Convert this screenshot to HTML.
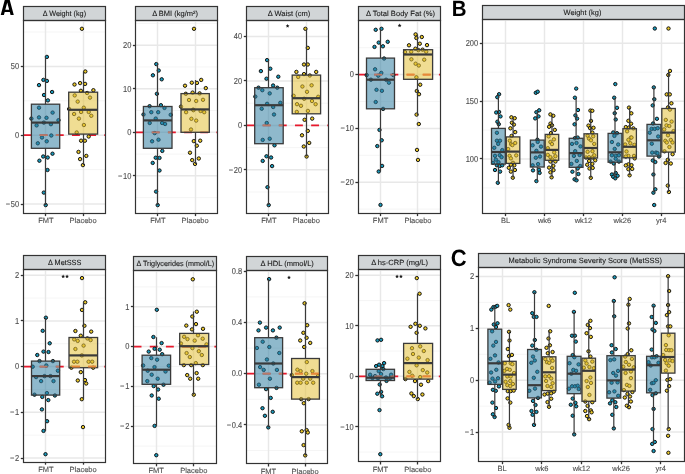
<!DOCTYPE html>
<html><head><meta charset="utf-8"><style>
html,body{margin:0;padding:0;background:#fff;}
svg{display:block;font-family:"Liberation Sans",sans-serif;}
svg{will-change:transform;}
text{text-rendering:geometricPrecision;}
</style></head><body>
<svg width="685" height="474" viewBox="0 0 685 474">
<rect width="685" height="474" fill="#fff"/>
<rect x="23.5" y="6.5" width="82" height="14" fill="#d1d5d7" stroke="#333333" stroke-width="1.2"/>
<text transform="translate(64.4,15.9) scale(1,1.0)" text-anchor="middle" font-size="7.5" fill="#1a1a1a" stroke="#1a1a1a" stroke-width="0.1" textLength="43.3" lengthAdjust="spacingAndGlyphs">Δ Weight (kg)</text>
<line x1="23.5" x2="105.5" y1="32" y2="32" stroke="#f2f2f2" stroke-width="0.8"/>
<line x1="23.5" x2="105.5" y1="100.8" y2="100.8" stroke="#f2f2f2" stroke-width="0.8"/>
<line x1="23.5" x2="105.5" y1="169.6" y2="169.6" stroke="#f2f2f2" stroke-width="0.8"/>
<line x1="23.5" x2="105.5" y1="66.4" y2="66.4" stroke="#e8e8e8" stroke-width="1.5"/>
<line x1="23.5" x2="105.5" y1="135.2" y2="135.2" stroke="#e8e8e8" stroke-width="1.5"/>
<line x1="23.5" x2="105.5" y1="204" y2="204" stroke="#e8e8e8" stroke-width="1.5"/>
<line x1="45.5" x2="45.5" y1="20.3" y2="213.4" stroke="#e8e8e8" stroke-width="1.5"/>
<line x1="83.5" x2="83.5" y1="20.3" y2="213.4" stroke="#e8e8e8" stroke-width="1.5"/>
<path d="M23.5 135.2H31.4M39.66 135.2H47.56M55.82 135.2H63.72M71.98 135.2H79.88M88.14 135.2H96.04M104.3 135.2H105.5" stroke="#e8192c" stroke-width="1.7" fill="none"/>
<circle cx="46.9" cy="56.9" r="1.7" fill="#1899bb" stroke="#0d0d0d" stroke-width="0.95"/>
<circle cx="43.4" cy="79.9" r="1.7" fill="#1899bb" stroke="#0d0d0d" stroke-width="0.95"/>
<circle cx="46.9" cy="80.9" r="1.7" fill="#1899bb" stroke="#0d0d0d" stroke-width="0.95"/>
<circle cx="39" cy="85.1" r="1.7" fill="#1899bb" stroke="#0d0d0d" stroke-width="0.95"/>
<circle cx="52.1" cy="92" r="1.7" fill="#1899bb" stroke="#0d0d0d" stroke-width="0.95"/>
<circle cx="44" cy="95" r="1.7" fill="#1899bb" stroke="#0d0d0d" stroke-width="0.95"/>
<circle cx="47.9" cy="100.4" r="1.7" fill="#1899bb" stroke="#0d0d0d" stroke-width="0.95"/>
<circle cx="39" cy="107.7" r="1.7" fill="#1899bb" stroke="#0d0d0d" stroke-width="0.95"/>
<circle cx="52.6" cy="112.6" r="1.7" fill="#1899bb" stroke="#0d0d0d" stroke-width="0.95"/>
<circle cx="31.4" cy="118.6" r="1.7" fill="#1899bb" stroke="#0d0d0d" stroke-width="0.95"/>
<circle cx="39" cy="117.4" r="1.7" fill="#1899bb" stroke="#0d0d0d" stroke-width="0.95"/>
<circle cx="46.5" cy="117.8" r="1.7" fill="#1899bb" stroke="#0d0d0d" stroke-width="0.95"/>
<circle cx="58.5" cy="120.2" r="1.7" fill="#1899bb" stroke="#0d0d0d" stroke-width="0.95"/>
<circle cx="36.6" cy="125.4" r="1.7" fill="#1899bb" stroke="#0d0d0d" stroke-width="0.95"/>
<circle cx="43.8" cy="122.6" r="1.7" fill="#1899bb" stroke="#0d0d0d" stroke-width="0.95"/>
<circle cx="50.9" cy="124.2" r="1.7" fill="#1899bb" stroke="#0d0d0d" stroke-width="0.95"/>
<circle cx="42" cy="137.5" r="1.7" fill="#1899bb" stroke="#0d0d0d" stroke-width="0.95"/>
<circle cx="51.3" cy="135.5" r="1.7" fill="#1899bb" stroke="#0d0d0d" stroke-width="0.95"/>
<circle cx="37.8" cy="143.3" r="1.7" fill="#1899bb" stroke="#0d0d0d" stroke-width="0.95"/>
<circle cx="46.7" cy="141.3" r="1.7" fill="#1899bb" stroke="#0d0d0d" stroke-width="0.95"/>
<circle cx="43.2" cy="156.5" r="1.7" fill="#1899bb" stroke="#0d0d0d" stroke-width="0.95"/>
<circle cx="47.7" cy="157.5" r="1.7" fill="#1899bb" stroke="#0d0d0d" stroke-width="0.95"/>
<circle cx="52.5" cy="153.7" r="1.7" fill="#1899bb" stroke="#0d0d0d" stroke-width="0.95"/>
<circle cx="39.4" cy="160.7" r="1.7" fill="#1899bb" stroke="#0d0d0d" stroke-width="0.95"/>
<circle cx="47.5" cy="170" r="1.7" fill="#1899bb" stroke="#0d0d0d" stroke-width="0.95"/>
<circle cx="43.8" cy="192.6" r="1.7" fill="#1899bb" stroke="#0d0d0d" stroke-width="0.95"/>
<circle cx="45.7" cy="205.1" r="1.7" fill="#1899bb" stroke="#0d0d0d" stroke-width="0.95"/>
<circle cx="81.9" cy="28.8" r="1.7" fill="#ebc92a" stroke="#0d0d0d" stroke-width="0.95"/>
<circle cx="85.3" cy="71.5" r="1.7" fill="#ebc92a" stroke="#0d0d0d" stroke-width="0.95"/>
<circle cx="74.5" cy="84.5" r="1.7" fill="#ebc92a" stroke="#0d0d0d" stroke-width="0.95"/>
<circle cx="80.1" cy="83.1" r="1.7" fill="#ebc92a" stroke="#0d0d0d" stroke-width="0.95"/>
<circle cx="85.1" cy="83.9" r="1.7" fill="#ebc92a" stroke="#0d0d0d" stroke-width="0.95"/>
<circle cx="80.9" cy="90.8" r="1.7" fill="#ebc92a" stroke="#0d0d0d" stroke-width="0.95"/>
<circle cx="87.1" cy="93" r="1.7" fill="#ebc92a" stroke="#0d0d0d" stroke-width="0.95"/>
<circle cx="93.4" cy="90.2" r="1.7" fill="#ebc92a" stroke="#0d0d0d" stroke-width="0.95"/>
<circle cx="74.7" cy="95.4" r="1.7" fill="#ebc92a" stroke="#0d0d0d" stroke-width="0.95"/>
<circle cx="90" cy="97.6" r="1.7" fill="#ebc92a" stroke="#0d0d0d" stroke-width="0.95"/>
<circle cx="77.7" cy="101.6" r="1.7" fill="#ebc92a" stroke="#0d0d0d" stroke-width="0.95"/>
<circle cx="83.8" cy="107.7" r="1.7" fill="#ebc92a" stroke="#0d0d0d" stroke-width="0.95"/>
<circle cx="69.1" cy="109" r="1.7" fill="#ebc92a" stroke="#0d0d0d" stroke-width="0.95"/>
<circle cx="74.1" cy="114" r="1.7" fill="#ebc92a" stroke="#0d0d0d" stroke-width="0.95"/>
<circle cx="81.1" cy="112" r="1.7" fill="#ebc92a" stroke="#0d0d0d" stroke-width="0.95"/>
<circle cx="88.7" cy="112" r="1.7" fill="#ebc92a" stroke="#0d0d0d" stroke-width="0.95"/>
<circle cx="91.3" cy="115.8" r="1.7" fill="#ebc92a" stroke="#0d0d0d" stroke-width="0.95"/>
<circle cx="78.9" cy="118.6" r="1.7" fill="#ebc92a" stroke="#0d0d0d" stroke-width="0.95"/>
<circle cx="83.9" cy="125" r="1.7" fill="#ebc92a" stroke="#0d0d0d" stroke-width="0.95"/>
<circle cx="76.7" cy="132.5" r="1.7" fill="#ebc92a" stroke="#0d0d0d" stroke-width="0.95"/>
<circle cx="88.7" cy="136.5" r="1.7" fill="#ebc92a" stroke="#0d0d0d" stroke-width="0.95"/>
<circle cx="81.1" cy="140.7" r="1.7" fill="#ebc92a" stroke="#0d0d0d" stroke-width="0.95"/>
<circle cx="84.9" cy="140.7" r="1.7" fill="#ebc92a" stroke="#0d0d0d" stroke-width="0.95"/>
<circle cx="78.5" cy="151.9" r="1.7" fill="#ebc92a" stroke="#0d0d0d" stroke-width="0.95"/>
<circle cx="86.3" cy="155.9" r="1.7" fill="#ebc92a" stroke="#0d0d0d" stroke-width="0.95"/>
<circle cx="80.1" cy="159.1" r="1.7" fill="#ebc92a" stroke="#0d0d0d" stroke-width="0.95"/>
<circle cx="82.9" cy="165.1" r="1.7" fill="#ebc92a" stroke="#0d0d0d" stroke-width="0.95"/>
<path d="M45.5 104.2V56.9M45.5 148.3V205.1" stroke="#3a3a3a" stroke-width="1.2"/>
<rect x="31.4" y="104.2" width="28.3" height="44.1" fill="rgb(51,128,162)" fill-opacity="0.55" stroke="#3a3a3a" stroke-width="1.3"/>
<path d="M39.66 135.2H47.56M55.82 135.2H59.1" stroke="#bb7a66" stroke-width="1.7" fill="none"/>
<line x1="31.4" x2="59.7" y1="122.6" y2="122.6" stroke="#3a3a3a" stroke-width="2.2"/>
<path d="M83.5 92.2V71.5M83.5 134.1V165.1" stroke="#3a3a3a" stroke-width="1.2"/>
<rect x="68.7" y="92.2" width="28.9" height="41.9" fill="rgb(228,193,59)" fill-opacity="0.55" stroke="#3a3a3a" stroke-width="1.3"/>
<line x1="68.7" x2="97.6" y1="109.8" y2="109.8" stroke="#3a3a3a" stroke-width="2.2"/>
<line x1="20.8" x2="23.5" y1="66.5" y2="66.5" stroke="#333333" stroke-width="1.3"/>
<text transform="translate(19.2,69.15) scale(1,1.15)" text-anchor="end" font-size="7.5" fill="#4d4d4d" stroke="#4d4d4d" stroke-width="0.1">50</text>
<line x1="20.8" x2="23.5" y1="135.5" y2="135.5" stroke="#333333" stroke-width="1.3"/>
<text transform="translate(19.2,137.95) scale(1,1.15)" text-anchor="end" font-size="7.5" fill="#4d4d4d" stroke="#4d4d4d" stroke-width="0.1">0</text>
<line x1="20.8" x2="23.5" y1="204.5" y2="204.5" stroke="#333333" stroke-width="1.3"/>
<text transform="translate(19.2,206.75) scale(1,1.15)" text-anchor="end" font-size="7.5" fill="#4d4d4d" stroke="#4d4d4d" stroke-width="0.1">−<tspan dx="0.7">50</tspan></text>
<line x1="45.5" x2="45.5" y1="213.4" y2="216.1" stroke="#333333" stroke-width="1.3"/>
<text transform="translate(45.86,223.2) scale(1,1.0)" text-anchor="middle" font-size="7.5" fill="#4d4d4d" stroke="#4d4d4d" stroke-width="0.1">FMT</text>
<line x1="83.5" x2="83.5" y1="213.4" y2="216.1" stroke="#333333" stroke-width="1.3"/>
<text transform="translate(83.14,223.2) scale(1,1.0)" text-anchor="middle" font-size="7.5" fill="#4d4d4d" stroke="#4d4d4d" stroke-width="0.1">Placebo</text>
<rect x="23.5" y="20.5" width="82" height="193" fill="none" stroke="#333333" stroke-width="1.2"/>
<rect x="135.5" y="6.5" width="82" height="14" fill="#d1d5d7" stroke="#333333" stroke-width="1.2"/>
<text transform="translate(175.05,15.9) scale(1,1.0)" text-anchor="middle" font-size="7.5" fill="#1a1a1a" stroke="#1a1a1a" stroke-width="0.1" textLength="45.8" lengthAdjust="spacingAndGlyphs">Δ BMI (kg/m²)</text>
<line x1="135.6" x2="217.4" y1="23.42" y2="23.42" stroke="#f2f2f2" stroke-width="0.8"/>
<line x1="135.6" x2="217.4" y1="66.98" y2="66.98" stroke="#f2f2f2" stroke-width="0.8"/>
<line x1="135.6" x2="217.4" y1="110.53" y2="110.53" stroke="#f2f2f2" stroke-width="0.8"/>
<line x1="135.6" x2="217.4" y1="154.08" y2="154.08" stroke="#f2f2f2" stroke-width="0.8"/>
<line x1="135.6" x2="217.4" y1="197.62" y2="197.62" stroke="#f2f2f2" stroke-width="0.8"/>
<line x1="135.6" x2="217.4" y1="45.2" y2="45.2" stroke="#e8e8e8" stroke-width="1.5"/>
<line x1="135.6" x2="217.4" y1="88.75" y2="88.75" stroke="#e8e8e8" stroke-width="1.5"/>
<line x1="135.6" x2="217.4" y1="132.3" y2="132.3" stroke="#e8e8e8" stroke-width="1.5"/>
<line x1="135.6" x2="217.4" y1="175.85" y2="175.85" stroke="#e8e8e8" stroke-width="1.5"/>
<line x1="157.5" x2="157.5" y1="20.3" y2="213.4" stroke="#e8e8e8" stroke-width="1.5"/>
<line x1="195.5" x2="195.5" y1="20.3" y2="213.4" stroke="#e8e8e8" stroke-width="1.5"/>
<path d="M135.6 132.3H143.5M151.76 132.3H159.66M167.92 132.3H175.82M184.08 132.3H191.98M200.24 132.3H208.14M216.4 132.3H217.4" stroke="#e8192c" stroke-width="1.7" fill="none"/>
<circle cx="156.3" cy="64.1" r="1.7" fill="#1899bb" stroke="#0d0d0d" stroke-width="0.95"/>
<circle cx="158.7" cy="70.5" r="1.7" fill="#1899bb" stroke="#0d0d0d" stroke-width="0.95"/>
<circle cx="152.9" cy="75.3" r="1.7" fill="#1899bb" stroke="#0d0d0d" stroke-width="0.95"/>
<circle cx="161.7" cy="79.3" r="1.7" fill="#1899bb" stroke="#0d0d0d" stroke-width="0.95"/>
<circle cx="156.9" cy="93.8" r="1.7" fill="#1899bb" stroke="#0d0d0d" stroke-width="0.95"/>
<circle cx="149.6" cy="106.2" r="1.7" fill="#1899bb" stroke="#0d0d0d" stroke-width="0.95"/>
<circle cx="160.9" cy="105.2" r="1.7" fill="#1899bb" stroke="#0d0d0d" stroke-width="0.95"/>
<circle cx="164.5" cy="107.9" r="1.7" fill="#1899bb" stroke="#0d0d0d" stroke-width="0.95"/>
<circle cx="151.3" cy="112.2" r="1.7" fill="#1899bb" stroke="#0d0d0d" stroke-width="0.95"/>
<circle cx="158.2" cy="112.2" r="1.7" fill="#1899bb" stroke="#0d0d0d" stroke-width="0.95"/>
<circle cx="143.5" cy="114.5" r="1.7" fill="#1899bb" stroke="#0d0d0d" stroke-width="0.95"/>
<circle cx="170.7" cy="114.8" r="1.7" fill="#1899bb" stroke="#0d0d0d" stroke-width="0.95"/>
<circle cx="155.7" cy="118.6" r="1.7" fill="#1899bb" stroke="#0d0d0d" stroke-width="0.95"/>
<circle cx="149.7" cy="123" r="1.7" fill="#1899bb" stroke="#0d0d0d" stroke-width="0.95"/>
<circle cx="162.1" cy="123" r="1.7" fill="#1899bb" stroke="#0d0d0d" stroke-width="0.95"/>
<circle cx="165.1" cy="124" r="1.7" fill="#1899bb" stroke="#0d0d0d" stroke-width="0.95"/>
<circle cx="154.7" cy="133.1" r="1.7" fill="#1899bb" stroke="#0d0d0d" stroke-width="0.95"/>
<circle cx="152.1" cy="141.3" r="1.7" fill="#1899bb" stroke="#0d0d0d" stroke-width="0.95"/>
<circle cx="158.5" cy="139.7" r="1.7" fill="#1899bb" stroke="#0d0d0d" stroke-width="0.95"/>
<circle cx="162.3" cy="150.9" r="1.7" fill="#1899bb" stroke="#0d0d0d" stroke-width="0.95"/>
<circle cx="155.7" cy="157.7" r="1.7" fill="#1899bb" stroke="#0d0d0d" stroke-width="0.95"/>
<circle cx="159.5" cy="157.9" r="1.7" fill="#1899bb" stroke="#0d0d0d" stroke-width="0.95"/>
<circle cx="152.7" cy="162.9" r="1.7" fill="#1899bb" stroke="#0d0d0d" stroke-width="0.95"/>
<circle cx="159.5" cy="170.5" r="1.7" fill="#1899bb" stroke="#0d0d0d" stroke-width="0.95"/>
<circle cx="156.1" cy="191.6" r="1.7" fill="#1899bb" stroke="#0d0d0d" stroke-width="0.95"/>
<circle cx="157.7" cy="205.1" r="1.7" fill="#1899bb" stroke="#0d0d0d" stroke-width="0.95"/>
<circle cx="194" cy="28.8" r="1.7" fill="#ebc92a" stroke="#0d0d0d" stroke-width="0.95"/>
<circle cx="201.2" cy="79.9" r="1.7" fill="#ebc92a" stroke="#0d0d0d" stroke-width="0.95"/>
<circle cx="191.8" cy="82.7" r="1.7" fill="#ebc92a" stroke="#0d0d0d" stroke-width="0.95"/>
<circle cx="197" cy="82.9" r="1.7" fill="#ebc92a" stroke="#0d0d0d" stroke-width="0.95"/>
<circle cx="185" cy="85.7" r="1.7" fill="#ebc92a" stroke="#0d0d0d" stroke-width="0.95"/>
<circle cx="205.8" cy="88.1" r="1.7" fill="#ebc92a" stroke="#0d0d0d" stroke-width="0.95"/>
<circle cx="185.8" cy="93.8" r="1.7" fill="#ebc92a" stroke="#0d0d0d" stroke-width="0.95"/>
<circle cx="192.6" cy="92.6" r="1.7" fill="#ebc92a" stroke="#0d0d0d" stroke-width="0.95"/>
<circle cx="199.6" cy="93.4" r="1.7" fill="#ebc92a" stroke="#0d0d0d" stroke-width="0.95"/>
<circle cx="189" cy="100" r="1.7" fill="#ebc92a" stroke="#0d0d0d" stroke-width="0.95"/>
<circle cx="196.2" cy="101" r="1.7" fill="#ebc92a" stroke="#0d0d0d" stroke-width="0.95"/>
<circle cx="203" cy="99.8" r="1.7" fill="#ebc92a" stroke="#0d0d0d" stroke-width="0.95"/>
<circle cx="181" cy="106.6" r="1.7" fill="#ebc92a" stroke="#0d0d0d" stroke-width="0.95"/>
<circle cx="193.2" cy="109.6" r="1.7" fill="#ebc92a" stroke="#0d0d0d" stroke-width="0.95"/>
<circle cx="186.1" cy="112.2" r="1.7" fill="#ebc92a" stroke="#0d0d0d" stroke-width="0.95"/>
<circle cx="193.4" cy="110.2" r="1.7" fill="#ebc92a" stroke="#0d0d0d" stroke-width="0.95"/>
<circle cx="200.6" cy="111" r="1.7" fill="#ebc92a" stroke="#0d0d0d" stroke-width="0.95"/>
<circle cx="204.2" cy="112.2" r="1.7" fill="#ebc92a" stroke="#0d0d0d" stroke-width="0.95"/>
<circle cx="191.4" cy="118.8" r="1.7" fill="#ebc92a" stroke="#0d0d0d" stroke-width="0.95"/>
<circle cx="196.2" cy="120.6" r="1.7" fill="#ebc92a" stroke="#0d0d0d" stroke-width="0.95"/>
<circle cx="191" cy="129.5" r="1.7" fill="#ebc92a" stroke="#0d0d0d" stroke-width="0.95"/>
<circle cx="193.8" cy="141.1" r="1.7" fill="#ebc92a" stroke="#0d0d0d" stroke-width="0.95"/>
<circle cx="200.2" cy="140.7" r="1.7" fill="#ebc92a" stroke="#0d0d0d" stroke-width="0.95"/>
<circle cx="196.8" cy="145.7" r="1.7" fill="#ebc92a" stroke="#0d0d0d" stroke-width="0.95"/>
<circle cx="190" cy="152.7" r="1.7" fill="#ebc92a" stroke="#0d0d0d" stroke-width="0.95"/>
<circle cx="198.8" cy="158.5" r="1.7" fill="#ebc92a" stroke="#0d0d0d" stroke-width="0.95"/>
<circle cx="192.2" cy="160.1" r="1.7" fill="#ebc92a" stroke="#0d0d0d" stroke-width="0.95"/>
<circle cx="195" cy="163.9" r="1.7" fill="#ebc92a" stroke="#0d0d0d" stroke-width="0.95"/>
<path d="M157.5 106.5V64.1M157.5 148.3V205.1" stroke="#3a3a3a" stroke-width="1.2"/>
<rect x="143.4" y="106.5" width="28.6" height="41.8" fill="rgb(51,128,162)" fill-opacity="0.55" stroke="#3a3a3a" stroke-width="1.3"/>
<path d="M151.76 132.3H159.66M167.92 132.3H171.4" stroke="#bb7a66" stroke-width="1.7" fill="none"/>
<line x1="143.4" x2="172" y1="120.4" y2="120.4" stroke="#3a3a3a" stroke-width="2.2"/>
<path d="M195.5 93.6V79.9M195.5 132.3V163.9" stroke="#3a3a3a" stroke-width="1.2"/>
<rect x="181" y="93.6" width="28.3" height="38.7" fill="rgb(228,193,59)" fill-opacity="0.55" stroke="#3a3a3a" stroke-width="1.3"/>
<line x1="181" x2="209.3" y1="109.4" y2="109.4" stroke="#3a3a3a" stroke-width="2.2"/>
<line x1="132.9" x2="135.6" y1="45.5" y2="45.5" stroke="#333333" stroke-width="1.3"/>
<text transform="translate(131.3,47.95) scale(1,1.15)" text-anchor="end" font-size="7.5" fill="#4d4d4d" stroke="#4d4d4d" stroke-width="0.1">20</text>
<line x1="132.9" x2="135.6" y1="88.5" y2="88.5" stroke="#333333" stroke-width="1.3"/>
<text transform="translate(131.3,91.5) scale(1,1.15)" text-anchor="end" font-size="7.5" fill="#4d4d4d" stroke="#4d4d4d" stroke-width="0.1">10</text>
<line x1="132.9" x2="135.6" y1="132.5" y2="132.5" stroke="#333333" stroke-width="1.3"/>
<text transform="translate(131.3,135.05) scale(1,1.15)" text-anchor="end" font-size="7.5" fill="#4d4d4d" stroke="#4d4d4d" stroke-width="0.1">0</text>
<line x1="132.9" x2="135.6" y1="175.5" y2="175.5" stroke="#333333" stroke-width="1.3"/>
<text transform="translate(131.3,178.6) scale(1,1.15)" text-anchor="end" font-size="7.5" fill="#4d4d4d" stroke="#4d4d4d" stroke-width="0.1">−<tspan dx="0.7">10</tspan></text>
<line x1="157.5" x2="157.5" y1="213.4" y2="216.1" stroke="#333333" stroke-width="1.3"/>
<text transform="translate(157.91,223.2) scale(1,1.0)" text-anchor="middle" font-size="7.5" fill="#4d4d4d" stroke="#4d4d4d" stroke-width="0.1">FMT</text>
<line x1="195.5" x2="195.5" y1="213.4" y2="216.1" stroke="#333333" stroke-width="1.3"/>
<text transform="translate(195.09,223.2) scale(1,1.0)" text-anchor="middle" font-size="7.5" fill="#4d4d4d" stroke="#4d4d4d" stroke-width="0.1">Placebo</text>
<rect x="135.5" y="20.5" width="82" height="193" fill="none" stroke="#333333" stroke-width="1.2"/>
<rect x="246.5" y="6.5" width="82" height="14" fill="#d1d5d7" stroke="#333333" stroke-width="1.2"/>
<text transform="translate(289,15.9) scale(1,1.0)" text-anchor="middle" font-size="7.5" fill="#1a1a1a" stroke="#1a1a1a" stroke-width="0.1" textLength="42.5" lengthAdjust="spacingAndGlyphs">Δ Waist (cm)</text>
<line x1="246.5" x2="328.8" y1="58.8" y2="58.8" stroke="#f2f2f2" stroke-width="0.8"/>
<line x1="246.5" x2="328.8" y1="103.2" y2="103.2" stroke="#f2f2f2" stroke-width="0.8"/>
<line x1="246.5" x2="328.8" y1="147.6" y2="147.6" stroke="#f2f2f2" stroke-width="0.8"/>
<line x1="246.5" x2="328.8" y1="192" y2="192" stroke="#f2f2f2" stroke-width="0.8"/>
<line x1="246.5" x2="328.8" y1="36.6" y2="36.6" stroke="#e8e8e8" stroke-width="1.5"/>
<line x1="246.5" x2="328.8" y1="81" y2="81" stroke="#e8e8e8" stroke-width="1.5"/>
<line x1="246.5" x2="328.8" y1="125.4" y2="125.4" stroke="#e8e8e8" stroke-width="1.5"/>
<line x1="246.5" x2="328.8" y1="169.8" y2="169.8" stroke="#e8e8e8" stroke-width="1.5"/>
<line x1="268.5" x2="268.5" y1="20.3" y2="213.4" stroke="#e8e8e8" stroke-width="1.5"/>
<line x1="306.5" x2="306.5" y1="20.3" y2="213.4" stroke="#e8e8e8" stroke-width="1.5"/>
<path d="M246.5 125.4H254.4M262.66 125.4H270.56M278.82 125.4H286.72M294.98 125.4H302.88M311.14 125.4H319.04M327.3 125.4H328.8" stroke="#e8192c" stroke-width="1.7" fill="none"/>
<circle cx="267.1" cy="60.1" r="1.7" fill="#1899bb" stroke="#0d0d0d" stroke-width="0.95"/>
<circle cx="260.9" cy="71.1" r="1.7" fill="#1899bb" stroke="#0d0d0d" stroke-width="0.95"/>
<circle cx="270.3" cy="68.7" r="1.7" fill="#1899bb" stroke="#0d0d0d" stroke-width="0.95"/>
<circle cx="266.5" cy="78.7" r="1.7" fill="#1899bb" stroke="#0d0d0d" stroke-width="0.95"/>
<circle cx="278.3" cy="76.7" r="1.7" fill="#1899bb" stroke="#0d0d0d" stroke-width="0.95"/>
<circle cx="273.1" cy="85.5" r="1.7" fill="#1899bb" stroke="#0d0d0d" stroke-width="0.95"/>
<circle cx="258.5" cy="87.7" r="1.7" fill="#1899bb" stroke="#0d0d0d" stroke-width="0.95"/>
<circle cx="262.3" cy="90.2" r="1.7" fill="#1899bb" stroke="#0d0d0d" stroke-width="0.95"/>
<circle cx="277.3" cy="87.7" r="1.7" fill="#1899bb" stroke="#0d0d0d" stroke-width="0.95"/>
<circle cx="269.7" cy="93.4" r="1.7" fill="#1899bb" stroke="#0d0d0d" stroke-width="0.95"/>
<circle cx="255.3" cy="96.6" r="1.7" fill="#1899bb" stroke="#0d0d0d" stroke-width="0.95"/>
<circle cx="267.1" cy="103.8" r="1.7" fill="#1899bb" stroke="#0d0d0d" stroke-width="0.95"/>
<circle cx="280.3" cy="102.8" r="1.7" fill="#1899bb" stroke="#0d0d0d" stroke-width="0.95"/>
<circle cx="261.7" cy="108.7" r="1.7" fill="#1899bb" stroke="#0d0d0d" stroke-width="0.95"/>
<circle cx="273.2" cy="107" r="1.7" fill="#1899bb" stroke="#0d0d0d" stroke-width="0.95"/>
<circle cx="274" cy="114.5" r="1.7" fill="#1899bb" stroke="#0d0d0d" stroke-width="0.95"/>
<circle cx="266.7" cy="123" r="1.7" fill="#1899bb" stroke="#0d0d0d" stroke-width="0.95"/>
<circle cx="262.7" cy="139.9" r="1.7" fill="#1899bb" stroke="#0d0d0d" stroke-width="0.95"/>
<circle cx="269.7" cy="138.7" r="1.7" fill="#1899bb" stroke="#0d0d0d" stroke-width="0.95"/>
<circle cx="274.5" cy="145.3" r="1.7" fill="#1899bb" stroke="#0d0d0d" stroke-width="0.95"/>
<circle cx="266.5" cy="156.3" r="1.7" fill="#1899bb" stroke="#0d0d0d" stroke-width="0.95"/>
<circle cx="271.1" cy="157.5" r="1.7" fill="#1899bb" stroke="#0d0d0d" stroke-width="0.95"/>
<circle cx="262.7" cy="160.9" r="1.7" fill="#1899bb" stroke="#0d0d0d" stroke-width="0.95"/>
<circle cx="272.1" cy="166.1" r="1.7" fill="#1899bb" stroke="#0d0d0d" stroke-width="0.95"/>
<circle cx="267.5" cy="187.2" r="1.7" fill="#1899bb" stroke="#0d0d0d" stroke-width="0.95"/>
<circle cx="268.7" cy="205.1" r="1.7" fill="#1899bb" stroke="#0d0d0d" stroke-width="0.95"/>
<circle cx="305.4" cy="28.8" r="1.7" fill="#ebc92a" stroke="#0d0d0d" stroke-width="0.95"/>
<circle cx="307.8" cy="47.9" r="1.7" fill="#ebc92a" stroke="#0d0d0d" stroke-width="0.95"/>
<circle cx="304" cy="64.5" r="1.7" fill="#ebc92a" stroke="#0d0d0d" stroke-width="0.95"/>
<circle cx="307.8" cy="64.5" r="1.7" fill="#ebc92a" stroke="#0d0d0d" stroke-width="0.95"/>
<circle cx="296.4" cy="71.9" r="1.7" fill="#ebc92a" stroke="#0d0d0d" stroke-width="0.95"/>
<circle cx="304" cy="74.1" r="1.7" fill="#ebc92a" stroke="#0d0d0d" stroke-width="0.95"/>
<circle cx="309.8" cy="75.5" r="1.7" fill="#ebc92a" stroke="#0d0d0d" stroke-width="0.95"/>
<circle cx="316.2" cy="71.9" r="1.7" fill="#ebc92a" stroke="#0d0d0d" stroke-width="0.95"/>
<circle cx="298.2" cy="76.9" r="1.7" fill="#ebc92a" stroke="#0d0d0d" stroke-width="0.95"/>
<circle cx="302.4" cy="86.5" r="1.7" fill="#ebc92a" stroke="#0d0d0d" stroke-width="0.95"/>
<circle cx="311.6" cy="85.3" r="1.7" fill="#ebc92a" stroke="#0d0d0d" stroke-width="0.95"/>
<circle cx="307" cy="91.8" r="1.7" fill="#ebc92a" stroke="#0d0d0d" stroke-width="0.95"/>
<circle cx="293.6" cy="95.8" r="1.7" fill="#ebc92a" stroke="#0d0d0d" stroke-width="0.95"/>
<circle cx="304.2" cy="98.8" r="1.7" fill="#ebc92a" stroke="#0d0d0d" stroke-width="0.95"/>
<circle cx="318.2" cy="96.8" r="1.7" fill="#ebc92a" stroke="#0d0d0d" stroke-width="0.95"/>
<circle cx="312" cy="101" r="1.7" fill="#ebc92a" stroke="#0d0d0d" stroke-width="0.95"/>
<circle cx="297" cy="104.2" r="1.7" fill="#ebc92a" stroke="#0d0d0d" stroke-width="0.95"/>
<circle cx="301" cy="105.8" r="1.7" fill="#ebc92a" stroke="#0d0d0d" stroke-width="0.95"/>
<circle cx="315.6" cy="104.2" r="1.7" fill="#ebc92a" stroke="#0d0d0d" stroke-width="0.95"/>
<circle cx="296.8" cy="111.9" r="1.7" fill="#ebc92a" stroke="#0d0d0d" stroke-width="0.95"/>
<circle cx="307.9" cy="110.9" r="1.7" fill="#ebc92a" stroke="#0d0d0d" stroke-width="0.95"/>
<circle cx="304.6" cy="119.8" r="1.7" fill="#ebc92a" stroke="#0d0d0d" stroke-width="0.95"/>
<circle cx="312.2" cy="118.6" r="1.7" fill="#ebc92a" stroke="#0d0d0d" stroke-width="0.95"/>
<circle cx="307.8" cy="130.9" r="1.7" fill="#ebc92a" stroke="#0d0d0d" stroke-width="0.95"/>
<circle cx="302" cy="135.3" r="1.7" fill="#ebc92a" stroke="#0d0d0d" stroke-width="0.95"/>
<circle cx="309.2" cy="142.9" r="1.7" fill="#ebc92a" stroke="#0d0d0d" stroke-width="0.95"/>
<circle cx="303.8" cy="146.5" r="1.7" fill="#ebc92a" stroke="#0d0d0d" stroke-width="0.95"/>
<circle cx="306.6" cy="156.5" r="1.7" fill="#ebc92a" stroke="#0d0d0d" stroke-width="0.95"/>
<path d="M268.5 87.7V60.1M268.5 143.7V205.1" stroke="#3a3a3a" stroke-width="1.2"/>
<rect x="254.7" y="87.7" width="28.5" height="56" fill="rgb(51,128,162)" fill-opacity="0.55" stroke="#3a3a3a" stroke-width="1.3"/>
<path d="M262.66 125.4H270.56M278.82 125.4H282.6" stroke="#bb7a66" stroke-width="1.7" fill="none"/>
<line x1="254.7" x2="283.2" y1="105.2" y2="105.2" stroke="#3a3a3a" stroke-width="2.2"/>
<path d="M306.5 75.1V28.8M306.5 113.8V156.5" stroke="#3a3a3a" stroke-width="1.2"/>
<rect x="292.2" y="75.1" width="28.4" height="38.7" fill="rgb(228,193,59)" fill-opacity="0.55" stroke="#3a3a3a" stroke-width="1.3"/>
<line x1="292.2" x2="320.6" y1="98.2" y2="98.2" stroke="#3a3a3a" stroke-width="2.2"/>
<line x1="243.8" x2="246.5" y1="36.5" y2="36.5" stroke="#333333" stroke-width="1.3"/>
<text transform="translate(242.2,39.35) scale(1,1.15)" text-anchor="end" font-size="7.5" fill="#4d4d4d" stroke="#4d4d4d" stroke-width="0.1">40</text>
<line x1="243.8" x2="246.5" y1="80.5" y2="80.5" stroke="#333333" stroke-width="1.3"/>
<text transform="translate(242.2,83.75) scale(1,1.15)" text-anchor="end" font-size="7.5" fill="#4d4d4d" stroke="#4d4d4d" stroke-width="0.1">20</text>
<line x1="243.8" x2="246.5" y1="125.5" y2="125.5" stroke="#333333" stroke-width="1.3"/>
<text transform="translate(242.2,128.15) scale(1,1.15)" text-anchor="end" font-size="7.5" fill="#4d4d4d" stroke="#4d4d4d" stroke-width="0.1">0</text>
<line x1="243.8" x2="246.5" y1="169.5" y2="169.5" stroke="#333333" stroke-width="1.3"/>
<text transform="translate(242.2,172.55) scale(1,1.15)" text-anchor="end" font-size="7.5" fill="#4d4d4d" stroke="#4d4d4d" stroke-width="0.1">−<tspan dx="0.7">20</tspan></text>
<line x1="268.5" x2="268.5" y1="213.4" y2="216.1" stroke="#333333" stroke-width="1.3"/>
<text transform="translate(268.95,223.2) scale(1,1.0)" text-anchor="middle" font-size="7.5" fill="#4d4d4d" stroke="#4d4d4d" stroke-width="0.1">FMT</text>
<line x1="306.5" x2="306.5" y1="213.4" y2="216.1" stroke="#333333" stroke-width="1.3"/>
<text transform="translate(306.35,223.2) scale(1,1.0)" text-anchor="middle" font-size="7.5" fill="#4d4d4d" stroke="#4d4d4d" stroke-width="0.1">Placebo</text>
<rect x="246.5" y="20.5" width="82" height="193" fill="none" stroke="#333333" stroke-width="1.2"/>
<polygon points="287.6,24 288.16,25.23 289.5,25.38 288.5,26.29 288.78,27.62 287.6,26.95 286.42,27.62 286.7,26.29 285.7,25.38 287.04,25.23" fill="#1a1a1a"/>
<rect x="358.5" y="6.5" width="82" height="14" fill="#d1d5d7" stroke="#333333" stroke-width="1.2"/>
<text transform="translate(400.55,15.9) scale(1,1.0)" text-anchor="middle" font-size="7.5" fill="#1a1a1a" stroke="#1a1a1a" stroke-width="0.1" textLength="69.2" lengthAdjust="spacingAndGlyphs">Δ Total Body Fat (%)</text>
<line x1="358.1" x2="440.4" y1="47.7" y2="47.7" stroke="#f2f2f2" stroke-width="0.8"/>
<line x1="358.1" x2="440.4" y1="101.5" y2="101.5" stroke="#f2f2f2" stroke-width="0.8"/>
<line x1="358.1" x2="440.4" y1="155.3" y2="155.3" stroke="#f2f2f2" stroke-width="0.8"/>
<line x1="358.1" x2="440.4" y1="209.1" y2="209.1" stroke="#f2f2f2" stroke-width="0.8"/>
<line x1="358.1" x2="440.4" y1="74.6" y2="74.6" stroke="#e8e8e8" stroke-width="1.5"/>
<line x1="358.1" x2="440.4" y1="128.4" y2="128.4" stroke="#e8e8e8" stroke-width="1.5"/>
<line x1="358.1" x2="440.4" y1="182.2" y2="182.2" stroke="#e8e8e8" stroke-width="1.5"/>
<line x1="380.5" x2="380.5" y1="20.3" y2="213.4" stroke="#e8e8e8" stroke-width="1.5"/>
<line x1="417.5" x2="417.5" y1="20.3" y2="213.4" stroke="#e8e8e8" stroke-width="1.5"/>
<path d="M358.1 74.6H366M374.26 74.6H382.16M390.42 74.6H398.32M406.58 74.6H414.48M422.74 74.6H430.64M438.9 74.6H440.4" stroke="#e8192c" stroke-width="1.7" fill="none"/>
<circle cx="375.7" cy="29.8" r="1.7" fill="#1899bb" stroke="#0d0d0d" stroke-width="0.95"/>
<circle cx="381.5" cy="28.8" r="1.7" fill="#1899bb" stroke="#0d0d0d" stroke-width="0.95"/>
<circle cx="378.7" cy="42.6" r="1.7" fill="#1899bb" stroke="#0d0d0d" stroke-width="0.95"/>
<circle cx="387.7" cy="41.8" r="1.7" fill="#1899bb" stroke="#0d0d0d" stroke-width="0.95"/>
<circle cx="374.5" cy="46.9" r="1.7" fill="#1899bb" stroke="#0d0d0d" stroke-width="0.95"/>
<circle cx="382.9" cy="46.3" r="1.7" fill="#1899bb" stroke="#0d0d0d" stroke-width="0.95"/>
<circle cx="384.1" cy="58.5" r="1.7" fill="#1899bb" stroke="#0d0d0d" stroke-width="0.95"/>
<circle cx="375.1" cy="69.3" r="1.7" fill="#1899bb" stroke="#0d0d0d" stroke-width="0.95"/>
<circle cx="381.3" cy="72.9" r="1.7" fill="#1899bb" stroke="#0d0d0d" stroke-width="0.95"/>
<circle cx="378.3" cy="75.7" r="1.7" fill="#1899bb" stroke="#0d0d0d" stroke-width="0.95"/>
<circle cx="366.7" cy="75.1" r="1.7" fill="#1899bb" stroke="#0d0d0d" stroke-width="0.95"/>
<circle cx="393.3" cy="75.1" r="1.7" fill="#1899bb" stroke="#0d0d0d" stroke-width="0.95"/>
<circle cx="370.9" cy="79.7" r="1.7" fill="#1899bb" stroke="#0d0d0d" stroke-width="0.95"/>
<circle cx="386.1" cy="79.7" r="1.7" fill="#1899bb" stroke="#0d0d0d" stroke-width="0.95"/>
<circle cx="388.9" cy="82.7" r="1.7" fill="#1899bb" stroke="#0d0d0d" stroke-width="0.95"/>
<circle cx="376.5" cy="89.8" r="1.7" fill="#1899bb" stroke="#0d0d0d" stroke-width="0.95"/>
<circle cx="381.9" cy="90.8" r="1.7" fill="#1899bb" stroke="#0d0d0d" stroke-width="0.95"/>
<circle cx="375.7" cy="102" r="1.7" fill="#1899bb" stroke="#0d0d0d" stroke-width="0.95"/>
<circle cx="383.1" cy="108.9" r="1.7" fill="#1899bb" stroke="#0d0d0d" stroke-width="0.95"/>
<circle cx="379.5" cy="129.9" r="1.7" fill="#1899bb" stroke="#0d0d0d" stroke-width="0.95"/>
<circle cx="381.7" cy="140.3" r="1.7" fill="#1899bb" stroke="#0d0d0d" stroke-width="0.95"/>
<circle cx="377.3" cy="146.1" r="1.7" fill="#1899bb" stroke="#0d0d0d" stroke-width="0.95"/>
<circle cx="382.1" cy="165.9" r="1.7" fill="#1899bb" stroke="#0d0d0d" stroke-width="0.95"/>
<circle cx="378.7" cy="171.5" r="1.7" fill="#1899bb" stroke="#0d0d0d" stroke-width="0.95"/>
<circle cx="380.5" cy="204.9" r="1.7" fill="#1899bb" stroke="#0d0d0d" stroke-width="0.95"/>
<circle cx="415.6" cy="34.4" r="1.7" fill="#ebc92a" stroke="#0d0d0d" stroke-width="0.95"/>
<circle cx="416.4" cy="38" r="1.7" fill="#ebc92a" stroke="#0d0d0d" stroke-width="0.95"/>
<circle cx="421.8" cy="37" r="1.7" fill="#ebc92a" stroke="#0d0d0d" stroke-width="0.95"/>
<circle cx="409" cy="45.3" r="1.7" fill="#ebc92a" stroke="#0d0d0d" stroke-width="0.95"/>
<circle cx="419.8" cy="43.7" r="1.7" fill="#ebc92a" stroke="#0d0d0d" stroke-width="0.95"/>
<circle cx="427" cy="45.1" r="1.7" fill="#ebc92a" stroke="#0d0d0d" stroke-width="0.95"/>
<circle cx="411.2" cy="51.7" r="1.7" fill="#ebc92a" stroke="#0d0d0d" stroke-width="0.95"/>
<circle cx="415.4" cy="48.7" r="1.7" fill="#ebc92a" stroke="#0d0d0d" stroke-width="0.95"/>
<circle cx="418.4" cy="50.1" r="1.7" fill="#ebc92a" stroke="#0d0d0d" stroke-width="0.95"/>
<circle cx="422.6" cy="49.7" r="1.7" fill="#ebc92a" stroke="#0d0d0d" stroke-width="0.95"/>
<circle cx="426.2" cy="51.7" r="1.7" fill="#ebc92a" stroke="#0d0d0d" stroke-width="0.95"/>
<circle cx="405" cy="52.1" r="1.7" fill="#ebc92a" stroke="#0d0d0d" stroke-width="0.95"/>
<circle cx="411.4" cy="59.3" r="1.7" fill="#ebc92a" stroke="#0d0d0d" stroke-width="0.95"/>
<circle cx="424.2" cy="59.7" r="1.7" fill="#ebc92a" stroke="#0d0d0d" stroke-width="0.95"/>
<circle cx="415.6" cy="63.7" r="1.7" fill="#ebc92a" stroke="#0d0d0d" stroke-width="0.95"/>
<circle cx="418.8" cy="65.5" r="1.7" fill="#ebc92a" stroke="#0d0d0d" stroke-width="0.95"/>
<circle cx="416.4" cy="77.3" r="1.7" fill="#ebc92a" stroke="#0d0d0d" stroke-width="0.95"/>
<circle cx="420.2" cy="84.7" r="1.7" fill="#ebc92a" stroke="#0d0d0d" stroke-width="0.95"/>
<circle cx="416.8" cy="91" r="1.7" fill="#ebc92a" stroke="#0d0d0d" stroke-width="0.95"/>
<circle cx="419" cy="94.2" r="1.7" fill="#ebc92a" stroke="#0d0d0d" stroke-width="0.95"/>
<circle cx="416.6" cy="114.6" r="1.7" fill="#ebc92a" stroke="#0d0d0d" stroke-width="0.95"/>
<circle cx="418.8" cy="124" r="1.7" fill="#ebc92a" stroke="#0d0d0d" stroke-width="0.95"/>
<circle cx="417" cy="149.9" r="1.7" fill="#ebc92a" stroke="#0d0d0d" stroke-width="0.95"/>
<circle cx="418" cy="159.9" r="1.7" fill="#ebc92a" stroke="#0d0d0d" stroke-width="0.95"/>
<path d="M380.5 58.1V28.8M380.5 108.8V171.5" stroke="#3a3a3a" stroke-width="1.2"/>
<rect x="366.5" y="58.1" width="28" height="50.7" fill="rgb(51,128,162)" fill-opacity="0.55" stroke="#3a3a3a" stroke-width="1.3"/>
<path d="M374.26 74.6H382.16M390.42 74.6H393.9" stroke="#bb7a66" stroke-width="1.7" fill="none"/>
<line x1="366.5" x2="394.5" y1="79.7" y2="79.7" stroke="#3a3a3a" stroke-width="2.2"/>
<path d="M417.5 49.7V34.4M417.5 79.3V115" stroke="#3a3a3a" stroke-width="1.2"/>
<rect x="403.6" y="49.7" width="29" height="29.6" fill="rgb(228,193,59)" fill-opacity="0.55" stroke="#3a3a3a" stroke-width="1.3"/>
<path d="M406.58 74.6H414.48M422.74 74.6H430.64" stroke="#e88a38" stroke-width="1.7" fill="none"/>
<line x1="403.6" x2="432.6" y1="54.5" y2="54.5" stroke="#3a3a3a" stroke-width="2.2"/>
<line x1="355.4" x2="358.1" y1="74.5" y2="74.5" stroke="#333333" stroke-width="1.3"/>
<text transform="translate(353.8,77.35) scale(1,1.15)" text-anchor="end" font-size="7.5" fill="#4d4d4d" stroke="#4d4d4d" stroke-width="0.1">0</text>
<line x1="355.4" x2="358.1" y1="128.5" y2="128.5" stroke="#333333" stroke-width="1.3"/>
<text transform="translate(353.8,131.15) scale(1,1.15)" text-anchor="end" font-size="7.5" fill="#4d4d4d" stroke="#4d4d4d" stroke-width="0.1">−<tspan dx="0.7">10</tspan></text>
<line x1="355.4" x2="358.1" y1="182.5" y2="182.5" stroke="#333333" stroke-width="1.3"/>
<text transform="translate(353.8,184.95) scale(1,1.15)" text-anchor="end" font-size="7.5" fill="#4d4d4d" stroke="#4d4d4d" stroke-width="0.1">−<tspan dx="0.7">20</tspan></text>
<line x1="380.5" x2="380.5" y1="213.4" y2="216.1" stroke="#333333" stroke-width="1.3"/>
<text transform="translate(380.55,223.2) scale(1,1.0)" text-anchor="middle" font-size="7.5" fill="#4d4d4d" stroke="#4d4d4d" stroke-width="0.1">FMT</text>
<line x1="417.5" x2="417.5" y1="213.4" y2="216.1" stroke="#333333" stroke-width="1.3"/>
<text transform="translate(417.95,223.2) scale(1,1.0)" text-anchor="middle" font-size="7.5" fill="#4d4d4d" stroke="#4d4d4d" stroke-width="0.1">Placebo</text>
<rect x="358.5" y="20.5" width="82" height="193" fill="none" stroke="#333333" stroke-width="1.2"/>
<polygon points="399.6,23.6 400.16,24.83 401.5,24.98 400.5,25.89 400.78,27.22 399.6,26.55 398.42,27.22 398.7,25.89 397.7,24.98 399.04,24.83" fill="#1a1a1a"/>
<rect x="23.5" y="255.5" width="82" height="14" fill="#d1d5d7" stroke="#333333" stroke-width="1.2"/>
<text transform="translate(64.7,264.9) scale(1,1.0)" text-anchor="middle" font-size="7.5" fill="#1a1a1a" stroke="#1a1a1a" stroke-width="0.1" textLength="33.3" lengthAdjust="spacingAndGlyphs">Δ MetSSS</text>
<line x1="23.5" x2="105.5" y1="298.05" y2="298.05" stroke="#f2f2f2" stroke-width="0.8"/>
<line x1="23.5" x2="105.5" y1="343.75" y2="343.75" stroke="#f2f2f2" stroke-width="0.8"/>
<line x1="23.5" x2="105.5" y1="389.45" y2="389.45" stroke="#f2f2f2" stroke-width="0.8"/>
<line x1="23.5" x2="105.5" y1="435.15" y2="435.15" stroke="#f2f2f2" stroke-width="0.8"/>
<line x1="23.5" x2="105.5" y1="275.2" y2="275.2" stroke="#e8e8e8" stroke-width="1.5"/>
<line x1="23.5" x2="105.5" y1="320.9" y2="320.9" stroke="#e8e8e8" stroke-width="1.5"/>
<line x1="23.5" x2="105.5" y1="366.6" y2="366.6" stroke="#e8e8e8" stroke-width="1.5"/>
<line x1="23.5" x2="105.5" y1="412.3" y2="412.3" stroke="#e8e8e8" stroke-width="1.5"/>
<line x1="23.5" x2="105.5" y1="458" y2="458" stroke="#e8e8e8" stroke-width="1.5"/>
<line x1="45.5" x2="45.5" y1="269.3" y2="462" stroke="#e8e8e8" stroke-width="1.5"/>
<line x1="83.5" x2="83.5" y1="269.3" y2="462" stroke="#e8e8e8" stroke-width="1.5"/>
<path d="M23.5 366.6H31.4M39.66 366.6H47.56M55.82 366.6H63.72M71.98 366.6H79.88M88.14 366.6H96.04M104.3 366.6H105.5" stroke="#e8192c" stroke-width="1.7" fill="none"/>
<circle cx="45.9" cy="317.7" r="1.7" fill="#1899bb" stroke="#0d0d0d" stroke-width="0.95"/>
<circle cx="42.7" cy="330.8" r="1.7" fill="#1899bb" stroke="#0d0d0d" stroke-width="0.95"/>
<circle cx="49.7" cy="343.3" r="1.7" fill="#1899bb" stroke="#0d0d0d" stroke-width="0.95"/>
<circle cx="43.5" cy="351.6" r="1.7" fill="#1899bb" stroke="#0d0d0d" stroke-width="0.95"/>
<circle cx="48.5" cy="352" r="1.7" fill="#1899bb" stroke="#0d0d0d" stroke-width="0.95"/>
<circle cx="37.3" cy="355" r="1.7" fill="#1899bb" stroke="#0d0d0d" stroke-width="0.95"/>
<circle cx="39.5" cy="361.1" r="1.7" fill="#1899bb" stroke="#0d0d0d" stroke-width="0.95"/>
<circle cx="52.9" cy="361.1" r="1.7" fill="#1899bb" stroke="#0d0d0d" stroke-width="0.95"/>
<circle cx="46.3" cy="365.5" r="1.7" fill="#1899bb" stroke="#0d0d0d" stroke-width="0.95"/>
<circle cx="32.7" cy="366.7" r="1.7" fill="#1899bb" stroke="#0d0d0d" stroke-width="0.95"/>
<circle cx="57.9" cy="370.7" r="1.7" fill="#1899bb" stroke="#0d0d0d" stroke-width="0.95"/>
<circle cx="44.5" cy="376.1" r="1.7" fill="#1899bb" stroke="#0d0d0d" stroke-width="0.95"/>
<circle cx="50.5" cy="376.1" r="1.7" fill="#1899bb" stroke="#0d0d0d" stroke-width="0.95"/>
<circle cx="36.1" cy="377.1" r="1.7" fill="#1899bb" stroke="#0d0d0d" stroke-width="0.95"/>
<circle cx="41.1" cy="381.1" r="1.7" fill="#1899bb" stroke="#0d0d0d" stroke-width="0.95"/>
<circle cx="53.5" cy="381.1" r="1.7" fill="#1899bb" stroke="#0d0d0d" stroke-width="0.95"/>
<circle cx="46.9" cy="393.1" r="1.7" fill="#1899bb" stroke="#0d0d0d" stroke-width="0.95"/>
<circle cx="34.5" cy="394.7" r="1.7" fill="#1899bb" stroke="#0d0d0d" stroke-width="0.95"/>
<circle cx="42.3" cy="396.9" r="1.7" fill="#1899bb" stroke="#0d0d0d" stroke-width="0.95"/>
<circle cx="54.9" cy="395.5" r="1.7" fill="#1899bb" stroke="#0d0d0d" stroke-width="0.95"/>
<circle cx="48.3" cy="400.1" r="1.7" fill="#1899bb" stroke="#0d0d0d" stroke-width="0.95"/>
<circle cx="41.9" cy="409.4" r="1.7" fill="#1899bb" stroke="#0d0d0d" stroke-width="0.95"/>
<circle cx="47.1" cy="421.2" r="1.7" fill="#1899bb" stroke="#0d0d0d" stroke-width="0.95"/>
<circle cx="43.5" cy="430.9" r="1.7" fill="#1899bb" stroke="#0d0d0d" stroke-width="0.95"/>
<circle cx="45.5" cy="454.2" r="1.7" fill="#1899bb" stroke="#0d0d0d" stroke-width="0.95"/>
<circle cx="82" cy="278.1" r="1.7" fill="#ebc92a" stroke="#0d0d0d" stroke-width="0.95"/>
<circle cx="85.2" cy="302.3" r="1.7" fill="#ebc92a" stroke="#0d0d0d" stroke-width="0.95"/>
<circle cx="82" cy="309.9" r="1.7" fill="#ebc92a" stroke="#0d0d0d" stroke-width="0.95"/>
<circle cx="84.4" cy="325.8" r="1.7" fill="#ebc92a" stroke="#0d0d0d" stroke-width="0.95"/>
<circle cx="75.4" cy="331" r="1.7" fill="#ebc92a" stroke="#0d0d0d" stroke-width="0.95"/>
<circle cx="91.2" cy="331.6" r="1.7" fill="#ebc92a" stroke="#0d0d0d" stroke-width="0.95"/>
<circle cx="80.8" cy="335.7" r="1.7" fill="#ebc92a" stroke="#0d0d0d" stroke-width="0.95"/>
<circle cx="87.4" cy="338.4" r="1.7" fill="#ebc92a" stroke="#0d0d0d" stroke-width="0.95"/>
<circle cx="74.2" cy="339.4" r="1.7" fill="#ebc92a" stroke="#0d0d0d" stroke-width="0.95"/>
<circle cx="77.7" cy="340.9" r="1.7" fill="#ebc92a" stroke="#0d0d0d" stroke-width="0.95"/>
<circle cx="90.6" cy="340.1" r="1.7" fill="#ebc92a" stroke="#0d0d0d" stroke-width="0.95"/>
<circle cx="83.6" cy="345.6" r="1.7" fill="#ebc92a" stroke="#0d0d0d" stroke-width="0.95"/>
<circle cx="75.4" cy="349" r="1.7" fill="#ebc92a" stroke="#0d0d0d" stroke-width="0.95"/>
<circle cx="81.8" cy="355.4" r="1.7" fill="#ebc92a" stroke="#0d0d0d" stroke-width="0.95"/>
<circle cx="74" cy="361.7" r="1.7" fill="#ebc92a" stroke="#0d0d0d" stroke-width="0.95"/>
<circle cx="77.4" cy="361.7" r="1.7" fill="#ebc92a" stroke="#0d0d0d" stroke-width="0.95"/>
<circle cx="88.6" cy="361.7" r="1.7" fill="#ebc92a" stroke="#0d0d0d" stroke-width="0.95"/>
<circle cx="92.2" cy="361.7" r="1.7" fill="#ebc92a" stroke="#0d0d0d" stroke-width="0.95"/>
<circle cx="71.4" cy="367.7" r="1.7" fill="#ebc92a" stroke="#0d0d0d" stroke-width="0.95"/>
<circle cx="93.2" cy="367.7" r="1.7" fill="#ebc92a" stroke="#0d0d0d" stroke-width="0.95"/>
<circle cx="80.8" cy="372.1" r="1.7" fill="#ebc92a" stroke="#0d0d0d" stroke-width="0.95"/>
<circle cx="77.8" cy="380.5" r="1.7" fill="#ebc92a" stroke="#0d0d0d" stroke-width="0.95"/>
<circle cx="85" cy="380.1" r="1.7" fill="#ebc92a" stroke="#0d0d0d" stroke-width="0.95"/>
<circle cx="86.2" cy="383.5" r="1.7" fill="#ebc92a" stroke="#0d0d0d" stroke-width="0.95"/>
<circle cx="81.8" cy="399.2" r="1.7" fill="#ebc92a" stroke="#0d0d0d" stroke-width="0.95"/>
<circle cx="83" cy="427.1" r="1.7" fill="#ebc92a" stroke="#0d0d0d" stroke-width="0.95"/>
<path d="M45.5 361.1V317.7M45.5 395.1V430.9" stroke="#3a3a3a" stroke-width="1.2"/>
<rect x="31.5" y="361.1" width="28.2" height="34" fill="rgb(51,128,162)" fill-opacity="0.55" stroke="#3a3a3a" stroke-width="1.3"/>
<path d="M39.66 366.6H47.56M55.82 366.6H59.1" stroke="#bb7a66" stroke-width="1.7" fill="none"/>
<line x1="31.5" x2="59.7" y1="376.1" y2="376.1" stroke="#3a3a3a" stroke-width="2.2"/>
<path d="M83.5 337.5V302.3M83.5 367.7V399.2" stroke="#3a3a3a" stroke-width="1.2"/>
<rect x="69" y="337.5" width="28.6" height="30.2" fill="rgb(228,193,59)" fill-opacity="0.55" stroke="#3a3a3a" stroke-width="1.3"/>
<path d="M71.98 366.6H79.88M88.14 366.6H96.04" stroke="#e88a38" stroke-width="1.7" fill="none"/>
<line x1="69" x2="97.6" y1="355.4" y2="355.4" stroke="#3a3a3a" stroke-width="2.2"/>
<line x1="20.8" x2="23.5" y1="275.5" y2="275.5" stroke="#333333" stroke-width="1.3"/>
<text transform="translate(19.2,277.95) scale(1,1.15)" text-anchor="end" font-size="7.5" fill="#4d4d4d" stroke="#4d4d4d" stroke-width="0.1">2</text>
<line x1="20.8" x2="23.5" y1="320.5" y2="320.5" stroke="#333333" stroke-width="1.3"/>
<text transform="translate(19.2,323.65) scale(1,1.15)" text-anchor="end" font-size="7.5" fill="#4d4d4d" stroke="#4d4d4d" stroke-width="0.1">1</text>
<line x1="20.8" x2="23.5" y1="366.5" y2="366.5" stroke="#333333" stroke-width="1.3"/>
<text transform="translate(19.2,369.35) scale(1,1.15)" text-anchor="end" font-size="7.5" fill="#4d4d4d" stroke="#4d4d4d" stroke-width="0.1">0</text>
<line x1="20.8" x2="23.5" y1="412.5" y2="412.5" stroke="#333333" stroke-width="1.3"/>
<text transform="translate(19.2,415.05) scale(1,1.15)" text-anchor="end" font-size="7.5" fill="#4d4d4d" stroke="#4d4d4d" stroke-width="0.1">−<tspan dx="0.7">1</tspan></text>
<line x1="20.8" x2="23.5" y1="458.5" y2="458.5" stroke="#333333" stroke-width="1.3"/>
<text transform="translate(19.2,460.75) scale(1,1.15)" text-anchor="end" font-size="7.5" fill="#4d4d4d" stroke="#4d4d4d" stroke-width="0.1">−<tspan dx="0.7">2</tspan></text>
<line x1="45.5" x2="45.5" y1="462" y2="464.7" stroke="#333333" stroke-width="1.3"/>
<text transform="translate(45.86,471.8) scale(1,1.0)" text-anchor="middle" font-size="7.5" fill="#4d4d4d" stroke="#4d4d4d" stroke-width="0.1">FMT</text>
<line x1="83.5" x2="83.5" y1="462" y2="464.7" stroke="#333333" stroke-width="1.3"/>
<text transform="translate(83.14,471.8) scale(1,1.0)" text-anchor="middle" font-size="7.5" fill="#4d4d4d" stroke="#4d4d4d" stroke-width="0.1">Placebo</text>
<rect x="23.5" y="269.5" width="82" height="193" fill="none" stroke="#333333" stroke-width="1.2"/>
<polygon points="63.15,274.5 63.71,275.73 65.05,275.88 64.05,276.79 64.33,278.12 63.15,277.45 61.97,278.12 62.25,276.79 61.25,275.88 62.59,275.73" fill="#1a1a1a"/>
<polygon points="67.05,274.5 67.61,275.73 68.95,275.88 67.95,276.79 68.23,278.12 67.05,277.45 65.87,278.12 66.15,276.79 65.15,275.88 66.49,275.73" fill="#1a1a1a"/>
<rect x="133.5" y="256.5" width="83" height="14" fill="#d1d5d7" stroke="#333333" stroke-width="1.2"/>
<text transform="translate(175.3,265.9) scale(1,1.0)" text-anchor="middle" font-size="7.5" fill="#1a1a1a" stroke="#1a1a1a" stroke-width="0.1" textLength="77.5" lengthAdjust="spacingAndGlyphs">Δ Triglycerides (mmol/L)</text>
<line x1="133.6" x2="216.3" y1="286.9" y2="286.9" stroke="#f2f2f2" stroke-width="0.8"/>
<line x1="133.6" x2="216.3" y1="326.7" y2="326.7" stroke="#f2f2f2" stroke-width="0.8"/>
<line x1="133.6" x2="216.3" y1="366.5" y2="366.5" stroke="#f2f2f2" stroke-width="0.8"/>
<line x1="133.6" x2="216.3" y1="406.3" y2="406.3" stroke="#f2f2f2" stroke-width="0.8"/>
<line x1="133.6" x2="216.3" y1="446.1" y2="446.1" stroke="#f2f2f2" stroke-width="0.8"/>
<line x1="133.6" x2="216.3" y1="306.8" y2="306.8" stroke="#e8e8e8" stroke-width="1.5"/>
<line x1="133.6" x2="216.3" y1="346.6" y2="346.6" stroke="#e8e8e8" stroke-width="1.5"/>
<line x1="133.6" x2="216.3" y1="386.4" y2="386.4" stroke="#e8e8e8" stroke-width="1.5"/>
<line x1="133.6" x2="216.3" y1="426.2" y2="426.2" stroke="#e8e8e8" stroke-width="1.5"/>
<line x1="156.5" x2="156.5" y1="270.4" y2="463.6" stroke="#e8e8e8" stroke-width="1.5"/>
<line x1="193.5" x2="193.5" y1="270.4" y2="463.6" stroke="#e8e8e8" stroke-width="1.5"/>
<path d="M133.6 346.6H141.5M149.76 346.6H157.66M165.92 346.6H173.82M182.08 346.6H189.98M198.24 346.6H206.14M214.4 346.6H216.3" stroke="#e8192c" stroke-width="1.7" fill="none"/>
<circle cx="156.8" cy="309.8" r="1.7" fill="#1899bb" stroke="#0d0d0d" stroke-width="0.95"/>
<circle cx="153.4" cy="337" r="1.7" fill="#1899bb" stroke="#0d0d0d" stroke-width="0.95"/>
<circle cx="161.6" cy="343.1" r="1.7" fill="#1899bb" stroke="#0d0d0d" stroke-width="0.95"/>
<circle cx="154.6" cy="348.8" r="1.7" fill="#1899bb" stroke="#0d0d0d" stroke-width="0.95"/>
<circle cx="159.7" cy="349.7" r="1.7" fill="#1899bb" stroke="#0d0d0d" stroke-width="0.95"/>
<circle cx="148.7" cy="351.6" r="1.7" fill="#1899bb" stroke="#0d0d0d" stroke-width="0.95"/>
<circle cx="162.2" cy="354.2" r="1.7" fill="#1899bb" stroke="#0d0d0d" stroke-width="0.95"/>
<circle cx="151.3" cy="358.1" r="1.7" fill="#1899bb" stroke="#0d0d0d" stroke-width="0.95"/>
<circle cx="157.1" cy="359.7" r="1.7" fill="#1899bb" stroke="#0d0d0d" stroke-width="0.95"/>
<circle cx="143.1" cy="365.5" r="1.7" fill="#1899bb" stroke="#0d0d0d" stroke-width="0.95"/>
<circle cx="154.5" cy="367.1" r="1.7" fill="#1899bb" stroke="#0d0d0d" stroke-width="0.95"/>
<circle cx="168.8" cy="365.7" r="1.7" fill="#1899bb" stroke="#0d0d0d" stroke-width="0.95"/>
<circle cx="147.7" cy="370.7" r="1.7" fill="#1899bb" stroke="#0d0d0d" stroke-width="0.95"/>
<circle cx="165.5" cy="371.5" r="1.7" fill="#1899bb" stroke="#0d0d0d" stroke-width="0.95"/>
<circle cx="151.7" cy="374.7" r="1.7" fill="#1899bb" stroke="#0d0d0d" stroke-width="0.95"/>
<circle cx="157.7" cy="378.7" r="1.7" fill="#1899bb" stroke="#0d0d0d" stroke-width="0.95"/>
<circle cx="147.3" cy="381.1" r="1.7" fill="#1899bb" stroke="#0d0d0d" stroke-width="0.95"/>
<circle cx="163.5" cy="384.7" r="1.7" fill="#1899bb" stroke="#0d0d0d" stroke-width="0.95"/>
<circle cx="153.7" cy="386.1" r="1.7" fill="#1899bb" stroke="#0d0d0d" stroke-width="0.95"/>
<circle cx="158.1" cy="389.5" r="1.7" fill="#1899bb" stroke="#0d0d0d" stroke-width="0.95"/>
<circle cx="151.7" cy="395.5" r="1.7" fill="#1899bb" stroke="#0d0d0d" stroke-width="0.95"/>
<circle cx="158.7" cy="398.7" r="1.7" fill="#1899bb" stroke="#0d0d0d" stroke-width="0.95"/>
<circle cx="154.6" cy="425.9" r="1.7" fill="#1899bb" stroke="#0d0d0d" stroke-width="0.95"/>
<circle cx="156.3" cy="455.2" r="1.7" fill="#1899bb" stroke="#0d0d0d" stroke-width="0.95"/>
<circle cx="192.8" cy="279.3" r="1.7" fill="#ebc92a" stroke="#0d0d0d" stroke-width="0.95"/>
<circle cx="196.8" cy="311.7" r="1.7" fill="#ebc92a" stroke="#0d0d0d" stroke-width="0.95"/>
<circle cx="192.3" cy="316.5" r="1.7" fill="#ebc92a" stroke="#0d0d0d" stroke-width="0.95"/>
<circle cx="196" cy="324.1" r="1.7" fill="#ebc92a" stroke="#0d0d0d" stroke-width="0.95"/>
<circle cx="186.3" cy="325.6" r="1.7" fill="#ebc92a" stroke="#0d0d0d" stroke-width="0.95"/>
<circle cx="192" cy="329.4" r="1.7" fill="#ebc92a" stroke="#0d0d0d" stroke-width="0.95"/>
<circle cx="203" cy="328.8" r="1.7" fill="#ebc92a" stroke="#0d0d0d" stroke-width="0.95"/>
<circle cx="184.1" cy="336.8" r="1.7" fill="#ebc92a" stroke="#0d0d0d" stroke-width="0.95"/>
<circle cx="187.5" cy="339.1" r="1.7" fill="#ebc92a" stroke="#0d0d0d" stroke-width="0.95"/>
<circle cx="198" cy="335.3" r="1.7" fill="#ebc92a" stroke="#0d0d0d" stroke-width="0.95"/>
<circle cx="202.7" cy="338.7" r="1.7" fill="#ebc92a" stroke="#0d0d0d" stroke-width="0.95"/>
<circle cx="194.7" cy="340.6" r="1.7" fill="#ebc92a" stroke="#0d0d0d" stroke-width="0.95"/>
<circle cx="180.9" cy="343.5" r="1.7" fill="#ebc92a" stroke="#0d0d0d" stroke-width="0.95"/>
<circle cx="206.5" cy="344.4" r="1.7" fill="#ebc92a" stroke="#0d0d0d" stroke-width="0.95"/>
<circle cx="192.4" cy="348.1" r="1.7" fill="#ebc92a" stroke="#0d0d0d" stroke-width="0.95"/>
<circle cx="186.6" cy="353.1" r="1.7" fill="#ebc92a" stroke="#0d0d0d" stroke-width="0.95"/>
<circle cx="198.8" cy="351.2" r="1.7" fill="#ebc92a" stroke="#0d0d0d" stroke-width="0.95"/>
<circle cx="189.8" cy="357" r="1.7" fill="#ebc92a" stroke="#0d0d0d" stroke-width="0.95"/>
<circle cx="201.8" cy="355" r="1.7" fill="#ebc92a" stroke="#0d0d0d" stroke-width="0.95"/>
<circle cx="183.8" cy="365.1" r="1.7" fill="#ebc92a" stroke="#0d0d0d" stroke-width="0.95"/>
<circle cx="191.2" cy="365.1" r="1.7" fill="#ebc92a" stroke="#0d0d0d" stroke-width="0.95"/>
<circle cx="195.8" cy="363.1" r="1.7" fill="#ebc92a" stroke="#0d0d0d" stroke-width="0.95"/>
<circle cx="202.8" cy="365.1" r="1.7" fill="#ebc92a" stroke="#0d0d0d" stroke-width="0.95"/>
<circle cx="187.2" cy="375.1" r="1.7" fill="#ebc92a" stroke="#0d0d0d" stroke-width="0.95"/>
<circle cx="190.2" cy="378.7" r="1.7" fill="#ebc92a" stroke="#0d0d0d" stroke-width="0.95"/>
<circle cx="196.6" cy="373.1" r="1.7" fill="#ebc92a" stroke="#0d0d0d" stroke-width="0.95"/>
<circle cx="198.2" cy="378.7" r="1.7" fill="#ebc92a" stroke="#0d0d0d" stroke-width="0.95"/>
<circle cx="193.8" cy="394.7" r="1.7" fill="#ebc92a" stroke="#0d0d0d" stroke-width="0.95"/>
<path d="M156.5 355.2V337.2M156.5 384.3V425.9" stroke="#3a3a3a" stroke-width="1.2"/>
<rect x="142.1" y="355.2" width="28.5" height="29.1" fill="rgb(51,128,162)" fill-opacity="0.55" stroke="#3a3a3a" stroke-width="1.3"/>
<line x1="142.1" x2="170.6" y1="369.7" y2="369.7" stroke="#3a3a3a" stroke-width="2.2"/>
<path d="M193.5 333.4V311.6M193.5 364.5V394.7" stroke="#3a3a3a" stroke-width="1.2"/>
<rect x="179.7" y="333.4" width="29" height="31.1" fill="rgb(228,193,59)" fill-opacity="0.55" stroke="#3a3a3a" stroke-width="1.3"/>
<path d="M182.08 346.6H189.98M198.24 346.6H206.14" stroke="#e88a38" stroke-width="1.7" fill="none"/>
<line x1="179.7" x2="208.7" y1="346.2" y2="346.2" stroke="#3a3a3a" stroke-width="2.2"/>
<line x1="130.9" x2="133.6" y1="306.5" y2="306.5" stroke="#333333" stroke-width="1.3"/>
<text transform="translate(129.3,309.55) scale(1,1.15)" text-anchor="end" font-size="7.5" fill="#4d4d4d" stroke="#4d4d4d" stroke-width="0.1">1</text>
<line x1="130.9" x2="133.6" y1="346.5" y2="346.5" stroke="#333333" stroke-width="1.3"/>
<text transform="translate(129.3,349.35) scale(1,1.15)" text-anchor="end" font-size="7.5" fill="#4d4d4d" stroke="#4d4d4d" stroke-width="0.1">0</text>
<line x1="130.9" x2="133.6" y1="386.5" y2="386.5" stroke="#333333" stroke-width="1.3"/>
<text transform="translate(129.3,389.15) scale(1,1.15)" text-anchor="end" font-size="7.5" fill="#4d4d4d" stroke="#4d4d4d" stroke-width="0.1">−<tspan dx="0.7">1</tspan></text>
<line x1="130.9" x2="133.6" y1="426.5" y2="426.5" stroke="#333333" stroke-width="1.3"/>
<text transform="translate(129.3,428.95) scale(1,1.15)" text-anchor="end" font-size="7.5" fill="#4d4d4d" stroke="#4d4d4d" stroke-width="0.1">−<tspan dx="0.7">2</tspan></text>
<line x1="156.5" x2="156.5" y1="463.6" y2="466.3" stroke="#333333" stroke-width="1.3"/>
<text transform="translate(156.15,473.4) scale(1,1.0)" text-anchor="middle" font-size="7.5" fill="#4d4d4d" stroke="#4d4d4d" stroke-width="0.1">FMT</text>
<line x1="193.5" x2="193.5" y1="463.6" y2="466.3" stroke="#333333" stroke-width="1.3"/>
<text transform="translate(193.75,473.4) scale(1,1.0)" text-anchor="middle" font-size="7.5" fill="#4d4d4d" stroke="#4d4d4d" stroke-width="0.1">Placebo</text>
<rect x="133.5" y="270.5" width="83" height="193" fill="none" stroke="#333333" stroke-width="1.2"/>
<rect x="246.5" y="256.5" width="81" height="14" fill="#d1d5d7" stroke="#333333" stroke-width="1.2"/>
<text transform="translate(287.2,265.9) scale(1,1.0)" text-anchor="middle" font-size="7.5" fill="#1a1a1a" stroke="#1a1a1a" stroke-width="0.1" textLength="53.3" lengthAdjust="spacingAndGlyphs">Δ HDL (mmol/L)</text>
<line x1="246.5" x2="327.1" y1="296.9" y2="296.9" stroke="#f2f2f2" stroke-width="0.8"/>
<line x1="246.5" x2="327.1" y1="348.1" y2="348.1" stroke="#f2f2f2" stroke-width="0.8"/>
<line x1="246.5" x2="327.1" y1="399.3" y2="399.3" stroke="#f2f2f2" stroke-width="0.8"/>
<line x1="246.5" x2="327.1" y1="450.5" y2="450.5" stroke="#f2f2f2" stroke-width="0.8"/>
<line x1="246.5" x2="327.1" y1="271.3" y2="271.3" stroke="#e8e8e8" stroke-width="1.5"/>
<line x1="246.5" x2="327.1" y1="322.5" y2="322.5" stroke="#e8e8e8" stroke-width="1.5"/>
<line x1="246.5" x2="327.1" y1="373.7" y2="373.7" stroke="#e8e8e8" stroke-width="1.5"/>
<line x1="246.5" x2="327.1" y1="424.9" y2="424.9" stroke="#e8e8e8" stroke-width="1.5"/>
<line x1="268.5" x2="268.5" y1="270.4" y2="463.8" stroke="#e8e8e8" stroke-width="1.5"/>
<line x1="305.5" x2="305.5" y1="270.4" y2="463.8" stroke="#e8e8e8" stroke-width="1.5"/>
<path d="M246.5 373.7H254.4M262.66 373.7H270.56M278.82 373.7H286.72M294.98 373.7H302.88M311.14 373.7H319.04" stroke="#e8192c" stroke-width="1.7" fill="none"/>
<circle cx="269.1" cy="279.1" r="1.7" fill="#1899bb" stroke="#0d0d0d" stroke-width="0.95"/>
<circle cx="259.9" cy="322.6" r="1.7" fill="#1899bb" stroke="#0d0d0d" stroke-width="0.95"/>
<circle cx="266.1" cy="327.6" r="1.7" fill="#1899bb" stroke="#0d0d0d" stroke-width="0.95"/>
<circle cx="258.5" cy="330.4" r="1.7" fill="#1899bb" stroke="#0d0d0d" stroke-width="0.95"/>
<circle cx="272.9" cy="330.4" r="1.7" fill="#1899bb" stroke="#0d0d0d" stroke-width="0.95"/>
<circle cx="279.7" cy="327.6" r="1.7" fill="#1899bb" stroke="#0d0d0d" stroke-width="0.95"/>
<circle cx="276.4" cy="337.7" r="1.7" fill="#1899bb" stroke="#0d0d0d" stroke-width="0.95"/>
<circle cx="262.7" cy="341.7" r="1.7" fill="#1899bb" stroke="#0d0d0d" stroke-width="0.95"/>
<circle cx="256.9" cy="348" r="1.7" fill="#1899bb" stroke="#0d0d0d" stroke-width="0.95"/>
<circle cx="269.3" cy="347" r="1.7" fill="#1899bb" stroke="#0d0d0d" stroke-width="0.95"/>
<circle cx="279.3" cy="353" r="1.7" fill="#1899bb" stroke="#0d0d0d" stroke-width="0.95"/>
<circle cx="266.9" cy="359.5" r="1.7" fill="#1899bb" stroke="#0d0d0d" stroke-width="0.95"/>
<circle cx="273.3" cy="363.5" r="1.7" fill="#1899bb" stroke="#0d0d0d" stroke-width="0.95"/>
<circle cx="260.1" cy="367.1" r="1.7" fill="#1899bb" stroke="#0d0d0d" stroke-width="0.95"/>
<circle cx="263.7" cy="369.9" r="1.7" fill="#1899bb" stroke="#0d0d0d" stroke-width="0.95"/>
<circle cx="276.9" cy="369.9" r="1.7" fill="#1899bb" stroke="#0d0d0d" stroke-width="0.95"/>
<circle cx="269.9" cy="378.7" r="1.7" fill="#1899bb" stroke="#0d0d0d" stroke-width="0.95"/>
<circle cx="258.9" cy="384.7" r="1.7" fill="#1899bb" stroke="#0d0d0d" stroke-width="0.95"/>
<circle cx="266.1" cy="389.1" r="1.7" fill="#1899bb" stroke="#0d0d0d" stroke-width="0.95"/>
<circle cx="276.5" cy="387.9" r="1.7" fill="#1899bb" stroke="#0d0d0d" stroke-width="0.95"/>
<circle cx="270.7" cy="397.9" r="1.7" fill="#1899bb" stroke="#0d0d0d" stroke-width="0.95"/>
<circle cx="262.5" cy="408.2" r="1.7" fill="#1899bb" stroke="#0d0d0d" stroke-width="0.95"/>
<circle cx="272.7" cy="411.8" r="1.7" fill="#1899bb" stroke="#0d0d0d" stroke-width="0.95"/>
<circle cx="264.9" cy="415.8" r="1.7" fill="#1899bb" stroke="#0d0d0d" stroke-width="0.95"/>
<circle cx="268.3" cy="427.4" r="1.7" fill="#1899bb" stroke="#0d0d0d" stroke-width="0.95"/>
<circle cx="304.6" cy="303.3" r="1.7" fill="#ebc92a" stroke="#0d0d0d" stroke-width="0.95"/>
<circle cx="307.2" cy="325.2" r="1.7" fill="#ebc92a" stroke="#0d0d0d" stroke-width="0.95"/>
<circle cx="303.4" cy="332.8" r="1.7" fill="#ebc92a" stroke="#0d0d0d" stroke-width="0.95"/>
<circle cx="306.6" cy="337.8" r="1.7" fill="#ebc92a" stroke="#0d0d0d" stroke-width="0.95"/>
<circle cx="300.2" cy="340.5" r="1.7" fill="#ebc92a" stroke="#0d0d0d" stroke-width="0.95"/>
<circle cx="310.2" cy="342.9" r="1.7" fill="#ebc92a" stroke="#0d0d0d" stroke-width="0.95"/>
<circle cx="304.2" cy="347" r="1.7" fill="#ebc92a" stroke="#0d0d0d" stroke-width="0.95"/>
<circle cx="306.8" cy="362.1" r="1.7" fill="#ebc92a" stroke="#0d0d0d" stroke-width="0.95"/>
<circle cx="297.4" cy="369.7" r="1.7" fill="#ebc92a" stroke="#0d0d0d" stroke-width="0.95"/>
<circle cx="300.6" cy="371.1" r="1.7" fill="#ebc92a" stroke="#0d0d0d" stroke-width="0.95"/>
<circle cx="306.2" cy="373.7" r="1.7" fill="#ebc92a" stroke="#0d0d0d" stroke-width="0.95"/>
<circle cx="312.4" cy="371.1" r="1.7" fill="#ebc92a" stroke="#0d0d0d" stroke-width="0.95"/>
<circle cx="291.8" cy="375.1" r="1.7" fill="#ebc92a" stroke="#0d0d0d" stroke-width="0.95"/>
<circle cx="318" cy="376.1" r="1.7" fill="#ebc92a" stroke="#0d0d0d" stroke-width="0.95"/>
<circle cx="303.2" cy="378.7" r="1.7" fill="#ebc92a" stroke="#0d0d0d" stroke-width="0.95"/>
<circle cx="310.2" cy="378.7" r="1.7" fill="#ebc92a" stroke="#0d0d0d" stroke-width="0.95"/>
<circle cx="297.2" cy="382.7" r="1.7" fill="#ebc92a" stroke="#0d0d0d" stroke-width="0.95"/>
<circle cx="300.6" cy="382.7" r="1.7" fill="#ebc92a" stroke="#0d0d0d" stroke-width="0.95"/>
<circle cx="306.8" cy="382.7" r="1.7" fill="#ebc92a" stroke="#0d0d0d" stroke-width="0.95"/>
<circle cx="313.2" cy="382.7" r="1.7" fill="#ebc92a" stroke="#0d0d0d" stroke-width="0.95"/>
<circle cx="301.2" cy="399.1" r="1.7" fill="#ebc92a" stroke="#0d0d0d" stroke-width="0.95"/>
<circle cx="308.6" cy="399.1" r="1.7" fill="#ebc92a" stroke="#0d0d0d" stroke-width="0.95"/>
<circle cx="303.8" cy="403.2" r="1.7" fill="#ebc92a" stroke="#0d0d0d" stroke-width="0.95"/>
<circle cx="301.8" cy="431.3" r="1.7" fill="#ebc92a" stroke="#0d0d0d" stroke-width="0.95"/>
<circle cx="306.6" cy="430.1" r="1.7" fill="#ebc92a" stroke="#0d0d0d" stroke-width="0.95"/>
<circle cx="307.8" cy="432.5" r="1.7" fill="#ebc92a" stroke="#0d0d0d" stroke-width="0.95"/>
<circle cx="303.6" cy="445.1" r="1.7" fill="#ebc92a" stroke="#0d0d0d" stroke-width="0.95"/>
<circle cx="305.2" cy="455.4" r="1.7" fill="#ebc92a" stroke="#0d0d0d" stroke-width="0.95"/>
<path d="M268.5 337.7V279.1M268.5 387.7V427.4" stroke="#3a3a3a" stroke-width="1.2"/>
<rect x="254.7" y="337.7" width="27.9" height="50" fill="rgb(51,128,162)" fill-opacity="0.55" stroke="#3a3a3a" stroke-width="1.3"/>
<path d="M262.66 373.7H270.56M278.82 373.7H282" stroke="#bb7a66" stroke-width="1.7" fill="none"/>
<line x1="254.7" x2="282.6" y1="363.5" y2="363.5" stroke="#3a3a3a" stroke-width="2.2"/>
<path d="M305.5 358.5V303.3M305.5 399.1V455.4" stroke="#3a3a3a" stroke-width="1.2"/>
<rect x="291.6" y="358.5" width="27.8" height="40.6" fill="rgb(228,193,59)" fill-opacity="0.55" stroke="#3a3a3a" stroke-width="1.3"/>
<path d="M294.98 373.7H302.88M311.14 373.7H318.8" stroke="#e88a38" stroke-width="1.7" fill="none"/>
<line x1="291.6" x2="319.4" y1="377.1" y2="377.1" stroke="#3a3a3a" stroke-width="2.2"/>
<line x1="243.8" x2="246.5" y1="271.5" y2="271.5" stroke="#333333" stroke-width="1.3"/>
<text transform="translate(242.2,274.05) scale(1,1.15)" text-anchor="end" font-size="7.5" fill="#4d4d4d" stroke="#4d4d4d" stroke-width="0.1">0.8</text>
<line x1="243.8" x2="246.5" y1="322.5" y2="322.5" stroke="#333333" stroke-width="1.3"/>
<text transform="translate(242.2,325.25) scale(1,1.15)" text-anchor="end" font-size="7.5" fill="#4d4d4d" stroke="#4d4d4d" stroke-width="0.1">0.4</text>
<line x1="243.8" x2="246.5" y1="373.5" y2="373.5" stroke="#333333" stroke-width="1.3"/>
<text transform="translate(242.2,376.45) scale(1,1.15)" text-anchor="end" font-size="7.5" fill="#4d4d4d" stroke="#4d4d4d" stroke-width="0.1">0.0</text>
<line x1="243.8" x2="246.5" y1="424.5" y2="424.5" stroke="#333333" stroke-width="1.3"/>
<text transform="translate(242.2,427.65) scale(1,1.15)" text-anchor="end" font-size="7.5" fill="#4d4d4d" stroke="#4d4d4d" stroke-width="0.1">−<tspan dx="0.7">0.4</tspan></text>
<line x1="268.5" x2="268.5" y1="463.8" y2="466.5" stroke="#333333" stroke-width="1.3"/>
<text transform="translate(268.48,473.6) scale(1,1.0)" text-anchor="middle" font-size="7.5" fill="#4d4d4d" stroke="#4d4d4d" stroke-width="0.1">FMT</text>
<line x1="305.5" x2="305.5" y1="463.8" y2="466.5" stroke="#333333" stroke-width="1.3"/>
<text transform="translate(305.12,473.6) scale(1,1.0)" text-anchor="middle" font-size="7.5" fill="#4d4d4d" stroke="#4d4d4d" stroke-width="0.1">Placebo</text>
<rect x="246.5" y="270.5" width="81" height="193" fill="none" stroke="#333333" stroke-width="1.2"/>
<polygon points="289,275.5 289.56,276.73 290.9,276.88 289.9,277.79 290.18,279.12 289,278.45 287.82,279.12 288.1,277.79 287.1,276.88 288.44,276.73" fill="#1a1a1a"/>
<rect x="358.5" y="255.5" width="82" height="14" fill="#d1d5d7" stroke="#333333" stroke-width="1.2"/>
<text transform="translate(399.55,264.9) scale(1,1.0)" text-anchor="middle" font-size="7.5" fill="#1a1a1a" stroke="#1a1a1a" stroke-width="0.1" textLength="56.8" lengthAdjust="spacingAndGlyphs">Δ hs-CRP (mg/L)</text>
<line x1="358" x2="440.2" y1="300.55" y2="300.55" stroke="#f2f2f2" stroke-width="0.8"/>
<line x1="358" x2="440.2" y1="351.05" y2="351.05" stroke="#f2f2f2" stroke-width="0.8"/>
<line x1="358" x2="440.2" y1="401.55" y2="401.55" stroke="#f2f2f2" stroke-width="0.8"/>
<line x1="358" x2="440.2" y1="452.05" y2="452.05" stroke="#f2f2f2" stroke-width="0.8"/>
<line x1="358" x2="440.2" y1="275.3" y2="275.3" stroke="#e8e8e8" stroke-width="1.5"/>
<line x1="358" x2="440.2" y1="325.8" y2="325.8" stroke="#e8e8e8" stroke-width="1.5"/>
<line x1="358" x2="440.2" y1="376.3" y2="376.3" stroke="#e8e8e8" stroke-width="1.5"/>
<line x1="358" x2="440.2" y1="426.8" y2="426.8" stroke="#e8e8e8" stroke-width="1.5"/>
<line x1="380.5" x2="380.5" y1="269.2" y2="461.8" stroke="#e8e8e8" stroke-width="1.5"/>
<line x1="417.5" x2="417.5" y1="269.2" y2="461.8" stroke="#e8e8e8" stroke-width="1.5"/>
<path d="M358 376.3H365.9M374.16 376.3H382.06M390.32 376.3H398.22M406.48 376.3H414.38M422.64 376.3H430.54M438.8 376.3H440.2" stroke="#e8192c" stroke-width="1.7" fill="none"/>
<circle cx="377.5" cy="340.4" r="1.7" fill="#1899bb" stroke="#0d0d0d" stroke-width="0.95"/>
<circle cx="381.1" cy="339.8" r="1.7" fill="#1899bb" stroke="#0d0d0d" stroke-width="0.95"/>
<circle cx="376.1" cy="366.1" r="1.7" fill="#1899bb" stroke="#0d0d0d" stroke-width="0.95"/>
<circle cx="379.1" cy="364.7" r="1.7" fill="#1899bb" stroke="#0d0d0d" stroke-width="0.95"/>
<circle cx="382.5" cy="366.1" r="1.7" fill="#1899bb" stroke="#0d0d0d" stroke-width="0.95"/>
<circle cx="384.1" cy="363.1" r="1.7" fill="#1899bb" stroke="#0d0d0d" stroke-width="0.95"/>
<circle cx="378.7" cy="371.1" r="1.7" fill="#1899bb" stroke="#0d0d0d" stroke-width="0.95"/>
<circle cx="383.3" cy="369.1" r="1.7" fill="#1899bb" stroke="#0d0d0d" stroke-width="0.95"/>
<circle cx="370.1" cy="374.7" r="1.7" fill="#1899bb" stroke="#0d0d0d" stroke-width="0.95"/>
<circle cx="375.1" cy="376.1" r="1.7" fill="#1899bb" stroke="#0d0d0d" stroke-width="0.95"/>
<circle cx="381.1" cy="374.1" r="1.7" fill="#1899bb" stroke="#0d0d0d" stroke-width="0.95"/>
<circle cx="391.1" cy="374.7" r="1.7" fill="#1899bb" stroke="#0d0d0d" stroke-width="0.95"/>
<circle cx="372.5" cy="377.9" r="1.7" fill="#1899bb" stroke="#0d0d0d" stroke-width="0.95"/>
<circle cx="378" cy="378.2" r="1.7" fill="#1899bb" stroke="#0d0d0d" stroke-width="0.95"/>
<circle cx="386" cy="377.6" r="1.7" fill="#1899bb" stroke="#0d0d0d" stroke-width="0.95"/>
<circle cx="390" cy="378.2" r="1.7" fill="#1899bb" stroke="#0d0d0d" stroke-width="0.95"/>
<circle cx="386.5" cy="380.9" r="1.7" fill="#1899bb" stroke="#0d0d0d" stroke-width="0.95"/>
<circle cx="379.7" cy="384.5" r="1.7" fill="#1899bb" stroke="#0d0d0d" stroke-width="0.95"/>
<circle cx="381.1" cy="391.9" r="1.7" fill="#1899bb" stroke="#0d0d0d" stroke-width="0.95"/>
<circle cx="377.3" cy="393.7" r="1.7" fill="#1899bb" stroke="#0d0d0d" stroke-width="0.95"/>
<circle cx="382.1" cy="396.3" r="1.7" fill="#1899bb" stroke="#0d0d0d" stroke-width="0.95"/>
<circle cx="379.5" cy="410.1" r="1.7" fill="#1899bb" stroke="#0d0d0d" stroke-width="0.95"/>
<circle cx="380.3" cy="454.2" r="1.7" fill="#1899bb" stroke="#0d0d0d" stroke-width="0.95"/>
<circle cx="416.8" cy="278.1" r="1.7" fill="#ebc92a" stroke="#0d0d0d" stroke-width="0.95"/>
<circle cx="419.6" cy="293.7" r="1.7" fill="#ebc92a" stroke="#0d0d0d" stroke-width="0.95"/>
<circle cx="415.4" cy="323.8" r="1.7" fill="#ebc92a" stroke="#0d0d0d" stroke-width="0.95"/>
<circle cx="410.6" cy="326.8" r="1.7" fill="#ebc92a" stroke="#0d0d0d" stroke-width="0.95"/>
<circle cx="419.8" cy="325.8" r="1.7" fill="#ebc92a" stroke="#0d0d0d" stroke-width="0.95"/>
<circle cx="425.4" cy="328.4" r="1.7" fill="#ebc92a" stroke="#0d0d0d" stroke-width="0.95"/>
<circle cx="416.6" cy="332.8" r="1.7" fill="#ebc92a" stroke="#0d0d0d" stroke-width="0.95"/>
<circle cx="420.2" cy="346.4" r="1.7" fill="#ebc92a" stroke="#0d0d0d" stroke-width="0.95"/>
<circle cx="412" cy="348.2" r="1.7" fill="#ebc92a" stroke="#0d0d0d" stroke-width="0.95"/>
<circle cx="423.8" cy="351" r="1.7" fill="#ebc92a" stroke="#0d0d0d" stroke-width="0.95"/>
<circle cx="413" cy="354" r="1.7" fill="#ebc92a" stroke="#0d0d0d" stroke-width="0.95"/>
<circle cx="418.8" cy="357.6" r="1.7" fill="#ebc92a" stroke="#0d0d0d" stroke-width="0.95"/>
<circle cx="407.4" cy="358.7" r="1.7" fill="#ebc92a" stroke="#0d0d0d" stroke-width="0.95"/>
<circle cx="427.6" cy="360.1" r="1.7" fill="#ebc92a" stroke="#0d0d0d" stroke-width="0.95"/>
<circle cx="416.6" cy="365.3" r="1.7" fill="#ebc92a" stroke="#0d0d0d" stroke-width="0.95"/>
<circle cx="422.8" cy="370.1" r="1.7" fill="#ebc92a" stroke="#0d0d0d" stroke-width="0.95"/>
<circle cx="409.4" cy="371.9" r="1.7" fill="#ebc92a" stroke="#0d0d0d" stroke-width="0.95"/>
<circle cx="427.2" cy="372.5" r="1.7" fill="#ebc92a" stroke="#0d0d0d" stroke-width="0.95"/>
<circle cx="412.2" cy="375.7" r="1.7" fill="#ebc92a" stroke="#0d0d0d" stroke-width="0.95"/>
<circle cx="420.2" cy="377.1" r="1.7" fill="#ebc92a" stroke="#0d0d0d" stroke-width="0.95"/>
<circle cx="405.4" cy="379.1" r="1.7" fill="#ebc92a" stroke="#0d0d0d" stroke-width="0.95"/>
<circle cx="415" cy="381.1" r="1.7" fill="#ebc92a" stroke="#0d0d0d" stroke-width="0.95"/>
<circle cx="428.2" cy="381.1" r="1.7" fill="#ebc92a" stroke="#0d0d0d" stroke-width="0.95"/>
<circle cx="421" cy="384.7" r="1.7" fill="#ebc92a" stroke="#0d0d0d" stroke-width="0.95"/>
<circle cx="411.4" cy="393.5" r="1.7" fill="#ebc92a" stroke="#0d0d0d" stroke-width="0.95"/>
<circle cx="413.8" cy="396.1" r="1.7" fill="#ebc92a" stroke="#0d0d0d" stroke-width="0.95"/>
<circle cx="422.4" cy="394.5" r="1.7" fill="#ebc92a" stroke="#0d0d0d" stroke-width="0.95"/>
<circle cx="417.8" cy="399.1" r="1.7" fill="#ebc92a" stroke="#0d0d0d" stroke-width="0.95"/>
<path d="M380.5 369.3V363.1M380.5 380.5V397" stroke="#3a3a3a" stroke-width="1.2"/>
<rect x="366.1" y="369.3" width="28.4" height="11.2" fill="rgb(51,128,162)" fill-opacity="0.55" stroke="#3a3a3a" stroke-width="1.3"/>
<path d="M374.16 376.3H382.06M390.32 376.3H393.9" stroke="#bb7a66" stroke-width="1.7" fill="none"/>
<line x1="366.1" x2="394.5" y1="377.7" y2="377.7" stroke="#3a3a3a" stroke-width="2.2"/>
<path d="M417.5 343.4V293.7M417.5 379.1V399.1" stroke="#3a3a3a" stroke-width="1.2"/>
<rect x="403.6" y="343.4" width="29" height="35.7" fill="rgb(228,193,59)" fill-opacity="0.55" stroke="#3a3a3a" stroke-width="1.3"/>
<path d="M406.48 376.3H414.38M422.64 376.3H430.54" stroke="#e88a38" stroke-width="1.7" fill="none"/>
<line x1="403.6" x2="432.6" y1="363.1" y2="363.1" stroke="#3a3a3a" stroke-width="2.2"/>
<line x1="355.3" x2="358" y1="275.5" y2="275.5" stroke="#333333" stroke-width="1.3"/>
<text transform="translate(353.7,278.05) scale(1,1.15)" text-anchor="end" font-size="7.5" fill="#4d4d4d" stroke="#4d4d4d" stroke-width="0.1">20</text>
<line x1="355.3" x2="358" y1="325.5" y2="325.5" stroke="#333333" stroke-width="1.3"/>
<text transform="translate(353.7,328.55) scale(1,1.15)" text-anchor="end" font-size="7.5" fill="#4d4d4d" stroke="#4d4d4d" stroke-width="0.1">10</text>
<line x1="355.3" x2="358" y1="376.5" y2="376.5" stroke="#333333" stroke-width="1.3"/>
<text transform="translate(353.7,379.05) scale(1,1.15)" text-anchor="end" font-size="7.5" fill="#4d4d4d" stroke="#4d4d4d" stroke-width="0.1">0</text>
<line x1="355.3" x2="358" y1="426.5" y2="426.5" stroke="#333333" stroke-width="1.3"/>
<text transform="translate(353.7,429.55) scale(1,1.15)" text-anchor="end" font-size="7.5" fill="#4d4d4d" stroke="#4d4d4d" stroke-width="0.1">−<tspan dx="0.7">10</tspan></text>
<line x1="380.5" x2="380.5" y1="461.8" y2="464.5" stroke="#333333" stroke-width="1.3"/>
<text transform="translate(380.42,471.6) scale(1,1.0)" text-anchor="middle" font-size="7.5" fill="#4d4d4d" stroke="#4d4d4d" stroke-width="0.1">FMT</text>
<line x1="417.5" x2="417.5" y1="461.8" y2="464.5" stroke="#333333" stroke-width="1.3"/>
<text transform="translate(417.78,471.6) scale(1,1.0)" text-anchor="middle" font-size="7.5" fill="#4d4d4d" stroke="#4d4d4d" stroke-width="0.1">Placebo</text>
<rect x="358.5" y="269.5" width="82" height="192" fill="none" stroke="#333333" stroke-width="1.2"/>
<polygon points="397.05,274.5 397.61,275.73 398.95,275.88 397.95,276.79 398.23,278.12 397.05,277.45 395.87,278.12 396.15,276.79 395.15,275.88 396.49,275.73" fill="#1a1a1a"/>
<polygon points="400.95,274.5 401.51,275.73 402.85,275.88 401.85,276.79 402.13,278.12 400.95,277.45 399.77,278.12 400.05,276.79 399.05,275.88 400.39,275.73" fill="#1a1a1a"/>
<rect x="482.5" y="5.5" width="202" height="14" fill="#d1d5d7" stroke="#333333" stroke-width="1.2"/>
<text transform="translate(582.45,14.9) scale(1,1.0)" text-anchor="middle" font-size="7.5" fill="#1a1a1a" stroke="#1a1a1a" stroke-width="0.1" textLength="37.8" lengthAdjust="spacingAndGlyphs">Weight (kg)</text>
<line x1="482.5" x2="684.4" y1="72.22" y2="72.22" stroke="#f2f2f2" stroke-width="0.8"/>
<line x1="482.5" x2="684.4" y1="130.07" y2="130.07" stroke="#f2f2f2" stroke-width="0.8"/>
<line x1="482.5" x2="684.4" y1="187.93" y2="187.93" stroke="#f2f2f2" stroke-width="0.8"/>
<line x1="482.5" x2="684.4" y1="43.3" y2="43.3" stroke="#e8e8e8" stroke-width="1.5"/>
<line x1="482.5" x2="684.4" y1="101.15" y2="101.15" stroke="#e8e8e8" stroke-width="1.5"/>
<line x1="482.5" x2="684.4" y1="159" y2="159" stroke="#e8e8e8" stroke-width="1.5"/>
<line x1="505.5" x2="505.5" y1="19.8" y2="213.4" stroke="#e8e8e8" stroke-width="1.5"/>
<line x1="544.5" x2="544.5" y1="19.8" y2="213.4" stroke="#e8e8e8" stroke-width="1.5"/>
<line x1="583.5" x2="583.5" y1="19.8" y2="213.4" stroke="#e8e8e8" stroke-width="1.5"/>
<line x1="622.5" x2="622.5" y1="19.8" y2="213.4" stroke="#e8e8e8" stroke-width="1.5"/>
<line x1="661.5" x2="661.5" y1="19.8" y2="213.4" stroke="#e8e8e8" stroke-width="1.5"/>
<circle cx="499.1" cy="94.2" r="1.7" fill="#1899bb" stroke="#0d0d0d" stroke-width="0.95"/>
<circle cx="497.3" cy="97.2" r="1.7" fill="#1899bb" stroke="#0d0d0d" stroke-width="0.95"/>
<circle cx="496.2" cy="112.5" r="1.7" fill="#1899bb" stroke="#0d0d0d" stroke-width="0.95"/>
<circle cx="499.1" cy="112" r="1.7" fill="#1899bb" stroke="#0d0d0d" stroke-width="0.95"/>
<circle cx="500.5" cy="116.4" r="1.7" fill="#1899bb" stroke="#0d0d0d" stroke-width="0.95"/>
<circle cx="497.4" cy="121.7" r="1.7" fill="#1899bb" stroke="#0d0d0d" stroke-width="0.95"/>
<circle cx="498.8" cy="124.2" r="1.7" fill="#1899bb" stroke="#0d0d0d" stroke-width="0.95"/>
<circle cx="496.9" cy="132.8" r="1.7" fill="#1899bb" stroke="#0d0d0d" stroke-width="0.95"/>
<circle cx="496.9" cy="140.7" r="1.7" fill="#1899bb" stroke="#0d0d0d" stroke-width="0.95"/>
<circle cx="500" cy="140.7" r="1.7" fill="#1899bb" stroke="#0d0d0d" stroke-width="0.95"/>
<circle cx="498.2" cy="143.9" r="1.7" fill="#1899bb" stroke="#0d0d0d" stroke-width="0.95"/>
<circle cx="494.3" cy="147.8" r="1.7" fill="#1899bb" stroke="#0d0d0d" stroke-width="0.95"/>
<circle cx="502.3" cy="150.1" r="1.7" fill="#1899bb" stroke="#0d0d0d" stroke-width="0.95"/>
<circle cx="495" cy="155.8" r="1.7" fill="#1899bb" stroke="#0d0d0d" stroke-width="0.95"/>
<circle cx="499.7" cy="155.2" r="1.7" fill="#1899bb" stroke="#0d0d0d" stroke-width="0.95"/>
<circle cx="501.6" cy="157.1" r="1.7" fill="#1899bb" stroke="#0d0d0d" stroke-width="0.95"/>
<circle cx="495.9" cy="159.6" r="1.7" fill="#1899bb" stroke="#0d0d0d" stroke-width="0.95"/>
<circle cx="498.5" cy="162.2" r="1.7" fill="#1899bb" stroke="#0d0d0d" stroke-width="0.95"/>
<circle cx="493.1" cy="162.8" r="1.7" fill="#1899bb" stroke="#0d0d0d" stroke-width="0.95"/>
<circle cx="496.9" cy="165.3" r="1.7" fill="#1899bb" stroke="#0d0d0d" stroke-width="0.95"/>
<circle cx="499.7" cy="166" r="1.7" fill="#1899bb" stroke="#0d0d0d" stroke-width="0.95"/>
<circle cx="502.3" cy="165.3" r="1.7" fill="#1899bb" stroke="#0d0d0d" stroke-width="0.95"/>
<circle cx="495" cy="170" r="1.7" fill="#1899bb" stroke="#0d0d0d" stroke-width="0.95"/>
<circle cx="500.1" cy="171.6" r="1.7" fill="#1899bb" stroke="#0d0d0d" stroke-width="0.95"/>
<circle cx="497.8" cy="182.8" r="1.7" fill="#1899bb" stroke="#0d0d0d" stroke-width="0.95"/>
<circle cx="511.4" cy="117.3" r="1.7" fill="#ebc92a" stroke="#0d0d0d" stroke-width="0.95"/>
<circle cx="514.7" cy="118.2" r="1.7" fill="#ebc92a" stroke="#0d0d0d" stroke-width="0.95"/>
<circle cx="511.9" cy="122.7" r="1.7" fill="#ebc92a" stroke="#0d0d0d" stroke-width="0.95"/>
<circle cx="513.9" cy="124.6" r="1.7" fill="#ebc92a" stroke="#0d0d0d" stroke-width="0.95"/>
<circle cx="510.4" cy="128.3" r="1.7" fill="#ebc92a" stroke="#0d0d0d" stroke-width="0.95"/>
<circle cx="515.2" cy="132.1" r="1.7" fill="#ebc92a" stroke="#0d0d0d" stroke-width="0.95"/>
<circle cx="511.6" cy="135.9" r="1.7" fill="#ebc92a" stroke="#0d0d0d" stroke-width="0.95"/>
<circle cx="509.8" cy="140.7" r="1.7" fill="#ebc92a" stroke="#0d0d0d" stroke-width="0.95"/>
<circle cx="515.2" cy="143" r="1.7" fill="#ebc92a" stroke="#0d0d0d" stroke-width="0.95"/>
<circle cx="511.1" cy="144.2" r="1.7" fill="#ebc92a" stroke="#0d0d0d" stroke-width="0.95"/>
<circle cx="512.4" cy="145.1" r="1.7" fill="#ebc92a" stroke="#0d0d0d" stroke-width="0.95"/>
<circle cx="508.2" cy="149.1" r="1.7" fill="#ebc92a" stroke="#0d0d0d" stroke-width="0.95"/>
<circle cx="509.6" cy="155.8" r="1.7" fill="#ebc92a" stroke="#0d0d0d" stroke-width="0.95"/>
<circle cx="516.2" cy="155.4" r="1.7" fill="#ebc92a" stroke="#0d0d0d" stroke-width="0.95"/>
<circle cx="510.9" cy="158.4" r="1.7" fill="#ebc92a" stroke="#0d0d0d" stroke-width="0.95"/>
<circle cx="513" cy="162.8" r="1.7" fill="#ebc92a" stroke="#0d0d0d" stroke-width="0.95"/>
<circle cx="510.9" cy="164.7" r="1.7" fill="#ebc92a" stroke="#0d0d0d" stroke-width="0.95"/>
<circle cx="514.3" cy="165.3" r="1.7" fill="#ebc92a" stroke="#0d0d0d" stroke-width="0.95"/>
<circle cx="508.8" cy="167.8" r="1.7" fill="#ebc92a" stroke="#0d0d0d" stroke-width="0.95"/>
<circle cx="514.9" cy="170" r="1.7" fill="#ebc92a" stroke="#0d0d0d" stroke-width="0.95"/>
<circle cx="510.9" cy="171.6" r="1.7" fill="#ebc92a" stroke="#0d0d0d" stroke-width="0.95"/>
<circle cx="512.8" cy="177.7" r="1.7" fill="#ebc92a" stroke="#0d0d0d" stroke-width="0.95"/>
<circle cx="535.8" cy="92.8" r="1.7" fill="#1899bb" stroke="#0d0d0d" stroke-width="0.95"/>
<circle cx="537.7" cy="91.7" r="1.7" fill="#1899bb" stroke="#0d0d0d" stroke-width="0.95"/>
<circle cx="539.2" cy="110.3" r="1.7" fill="#1899bb" stroke="#0d0d0d" stroke-width="0.95"/>
<circle cx="536.4" cy="112.2" r="1.7" fill="#1899bb" stroke="#0d0d0d" stroke-width="0.95"/>
<circle cx="538.5" cy="116.4" r="1.7" fill="#1899bb" stroke="#0d0d0d" stroke-width="0.95"/>
<circle cx="535.2" cy="118.4" r="1.7" fill="#1899bb" stroke="#0d0d0d" stroke-width="0.95"/>
<circle cx="537.4" cy="139.7" r="1.7" fill="#1899bb" stroke="#0d0d0d" stroke-width="0.95"/>
<circle cx="537.7" cy="141.9" r="1.7" fill="#1899bb" stroke="#0d0d0d" stroke-width="0.95"/>
<circle cx="532.6" cy="145.3" r="1.7" fill="#1899bb" stroke="#0d0d0d" stroke-width="0.95"/>
<circle cx="541" cy="146.6" r="1.7" fill="#1899bb" stroke="#0d0d0d" stroke-width="0.95"/>
<circle cx="536.4" cy="150.8" r="1.7" fill="#1899bb" stroke="#0d0d0d" stroke-width="0.95"/>
<circle cx="535.8" cy="157.7" r="1.7" fill="#1899bb" stroke="#0d0d0d" stroke-width="0.95"/>
<circle cx="540" cy="156.5" r="1.7" fill="#1899bb" stroke="#0d0d0d" stroke-width="0.95"/>
<circle cx="538.1" cy="164.1" r="1.7" fill="#1899bb" stroke="#0d0d0d" stroke-width="0.95"/>
<circle cx="532.6" cy="165.3" r="1.7" fill="#1899bb" stroke="#0d0d0d" stroke-width="0.95"/>
<circle cx="533" cy="170.4" r="1.7" fill="#1899bb" stroke="#0d0d0d" stroke-width="0.95"/>
<circle cx="539" cy="169.7" r="1.7" fill="#1899bb" stroke="#0d0d0d" stroke-width="0.95"/>
<circle cx="539.6" cy="172.9" r="1.7" fill="#1899bb" stroke="#0d0d0d" stroke-width="0.95"/>
<circle cx="536.4" cy="181.1" r="1.7" fill="#1899bb" stroke="#0d0d0d" stroke-width="0.95"/>
<circle cx="550.4" cy="114.4" r="1.7" fill="#ebc92a" stroke="#0d0d0d" stroke-width="0.95"/>
<circle cx="553.3" cy="115.8" r="1.7" fill="#ebc92a" stroke="#0d0d0d" stroke-width="0.95"/>
<circle cx="550.5" cy="123.6" r="1.7" fill="#ebc92a" stroke="#0d0d0d" stroke-width="0.95"/>
<circle cx="552" cy="125.3" r="1.7" fill="#ebc92a" stroke="#0d0d0d" stroke-width="0.95"/>
<circle cx="549.1" cy="126.8" r="1.7" fill="#ebc92a" stroke="#0d0d0d" stroke-width="0.95"/>
<circle cx="554.8" cy="129.9" r="1.7" fill="#ebc92a" stroke="#0d0d0d" stroke-width="0.95"/>
<circle cx="551" cy="133.1" r="1.7" fill="#ebc92a" stroke="#0d0d0d" stroke-width="0.95"/>
<circle cx="548.6" cy="136.4" r="1.7" fill="#ebc92a" stroke="#0d0d0d" stroke-width="0.95"/>
<circle cx="553.9" cy="139.4" r="1.7" fill="#ebc92a" stroke="#0d0d0d" stroke-width="0.95"/>
<circle cx="550.4" cy="142" r="1.7" fill="#ebc92a" stroke="#0d0d0d" stroke-width="0.95"/>
<circle cx="552" cy="144.1" r="1.7" fill="#ebc92a" stroke="#0d0d0d" stroke-width="0.95"/>
<circle cx="547.8" cy="148.2" r="1.7" fill="#ebc92a" stroke="#0d0d0d" stroke-width="0.95"/>
<circle cx="554.2" cy="152.4" r="1.7" fill="#ebc92a" stroke="#0d0d0d" stroke-width="0.95"/>
<circle cx="547.8" cy="154.9" r="1.7" fill="#ebc92a" stroke="#0d0d0d" stroke-width="0.95"/>
<circle cx="555.4" cy="156.2" r="1.7" fill="#ebc92a" stroke="#0d0d0d" stroke-width="0.95"/>
<circle cx="550.4" cy="157.1" r="1.7" fill="#ebc92a" stroke="#0d0d0d" stroke-width="0.95"/>
<circle cx="552.3" cy="159.6" r="1.7" fill="#ebc92a" stroke="#0d0d0d" stroke-width="0.95"/>
<circle cx="550.4" cy="161.5" r="1.7" fill="#ebc92a" stroke="#0d0d0d" stroke-width="0.95"/>
<circle cx="555.4" cy="161.5" r="1.7" fill="#ebc92a" stroke="#0d0d0d" stroke-width="0.95"/>
<circle cx="549.1" cy="167.6" r="1.7" fill="#ebc92a" stroke="#0d0d0d" stroke-width="0.95"/>
<circle cx="553.3" cy="165.9" r="1.7" fill="#ebc92a" stroke="#0d0d0d" stroke-width="0.95"/>
<circle cx="550.4" cy="172.3" r="1.7" fill="#ebc92a" stroke="#0d0d0d" stroke-width="0.95"/>
<circle cx="553.5" cy="170.1" r="1.7" fill="#ebc92a" stroke="#0d0d0d" stroke-width="0.95"/>
<circle cx="551.6" cy="177.3" r="1.7" fill="#ebc92a" stroke="#0d0d0d" stroke-width="0.95"/>
<circle cx="576.2" cy="88.6" r="1.7" fill="#1899bb" stroke="#0d0d0d" stroke-width="0.95"/>
<circle cx="574.9" cy="97.7" r="1.7" fill="#1899bb" stroke="#0d0d0d" stroke-width="0.95"/>
<circle cx="578" cy="110" r="1.7" fill="#1899bb" stroke="#0d0d0d" stroke-width="0.95"/>
<circle cx="575.4" cy="115.4" r="1.7" fill="#1899bb" stroke="#0d0d0d" stroke-width="0.95"/>
<circle cx="577.1" cy="118.6" r="1.7" fill="#1899bb" stroke="#0d0d0d" stroke-width="0.95"/>
<circle cx="574.6" cy="124.3" r="1.7" fill="#1899bb" stroke="#0d0d0d" stroke-width="0.95"/>
<circle cx="574.9" cy="138.2" r="1.7" fill="#1899bb" stroke="#0d0d0d" stroke-width="0.95"/>
<circle cx="577.7" cy="137.6" r="1.7" fill="#1899bb" stroke="#0d0d0d" stroke-width="0.95"/>
<circle cx="572" cy="143.9" r="1.7" fill="#1899bb" stroke="#0d0d0d" stroke-width="0.95"/>
<circle cx="576.5" cy="143" r="1.7" fill="#1899bb" stroke="#0d0d0d" stroke-width="0.95"/>
<circle cx="580.5" cy="146.4" r="1.7" fill="#1899bb" stroke="#0d0d0d" stroke-width="0.95"/>
<circle cx="575.2" cy="151.2" r="1.7" fill="#1899bb" stroke="#0d0d0d" stroke-width="0.95"/>
<circle cx="573.9" cy="155.9" r="1.7" fill="#1899bb" stroke="#0d0d0d" stroke-width="0.95"/>
<circle cx="579.6" cy="155" r="1.7" fill="#1899bb" stroke="#0d0d0d" stroke-width="0.95"/>
<circle cx="576.8" cy="160.9" r="1.7" fill="#1899bb" stroke="#0d0d0d" stroke-width="0.95"/>
<circle cx="571.4" cy="163.9" r="1.7" fill="#1899bb" stroke="#0d0d0d" stroke-width="0.95"/>
<circle cx="580.3" cy="166" r="1.7" fill="#1899bb" stroke="#0d0d0d" stroke-width="0.95"/>
<circle cx="577.7" cy="168.5" r="1.7" fill="#1899bb" stroke="#0d0d0d" stroke-width="0.95"/>
<circle cx="572.4" cy="171.7" r="1.7" fill="#1899bb" stroke="#0d0d0d" stroke-width="0.95"/>
<circle cx="578.4" cy="174" r="1.7" fill="#1899bb" stroke="#0d0d0d" stroke-width="0.95"/>
<circle cx="574.6" cy="179.3" r="1.7" fill="#1899bb" stroke="#0d0d0d" stroke-width="0.95"/>
<circle cx="576.5" cy="180.3" r="1.7" fill="#1899bb" stroke="#0d0d0d" stroke-width="0.95"/>
<circle cx="590.4" cy="110.6" r="1.7" fill="#ebc92a" stroke="#0d0d0d" stroke-width="0.95"/>
<circle cx="592.3" cy="110.8" r="1.7" fill="#ebc92a" stroke="#0d0d0d" stroke-width="0.95"/>
<circle cx="591" cy="120.9" r="1.7" fill="#ebc92a" stroke="#0d0d0d" stroke-width="0.95"/>
<circle cx="588.5" cy="125.6" r="1.7" fill="#ebc92a" stroke="#0d0d0d" stroke-width="0.95"/>
<circle cx="590.1" cy="128.1" r="1.7" fill="#ebc92a" stroke="#0d0d0d" stroke-width="0.95"/>
<circle cx="593.5" cy="127.8" r="1.7" fill="#ebc92a" stroke="#0d0d0d" stroke-width="0.95"/>
<circle cx="592.3" cy="132.5" r="1.7" fill="#ebc92a" stroke="#0d0d0d" stroke-width="0.95"/>
<circle cx="587.6" cy="135.7" r="1.7" fill="#ebc92a" stroke="#0d0d0d" stroke-width="0.95"/>
<circle cx="593.2" cy="136.3" r="1.7" fill="#ebc92a" stroke="#0d0d0d" stroke-width="0.95"/>
<circle cx="589" cy="138.6" r="1.7" fill="#ebc92a" stroke="#0d0d0d" stroke-width="0.95"/>
<circle cx="591" cy="140.3" r="1.7" fill="#ebc92a" stroke="#0d0d0d" stroke-width="0.95"/>
<circle cx="594.2" cy="143.9" r="1.7" fill="#ebc92a" stroke="#0d0d0d" stroke-width="0.95"/>
<circle cx="587.6" cy="151.8" r="1.7" fill="#ebc92a" stroke="#0d0d0d" stroke-width="0.95"/>
<circle cx="592.5" cy="151.2" r="1.7" fill="#ebc92a" stroke="#0d0d0d" stroke-width="0.95"/>
<circle cx="594.2" cy="155.3" r="1.7" fill="#ebc92a" stroke="#0d0d0d" stroke-width="0.95"/>
<circle cx="586" cy="157.5" r="1.7" fill="#ebc92a" stroke="#0d0d0d" stroke-width="0.95"/>
<circle cx="589.1" cy="157.2" r="1.7" fill="#ebc92a" stroke="#0d0d0d" stroke-width="0.95"/>
<circle cx="592.3" cy="157.5" r="1.7" fill="#ebc92a" stroke="#0d0d0d" stroke-width="0.95"/>
<circle cx="595.2" cy="160.3" r="1.7" fill="#ebc92a" stroke="#0d0d0d" stroke-width="0.95"/>
<circle cx="589.1" cy="160.9" r="1.7" fill="#ebc92a" stroke="#0d0d0d" stroke-width="0.95"/>
<circle cx="587.2" cy="164.7" r="1.7" fill="#ebc92a" stroke="#0d0d0d" stroke-width="0.95"/>
<circle cx="592.3" cy="163.9" r="1.7" fill="#ebc92a" stroke="#0d0d0d" stroke-width="0.95"/>
<circle cx="589.5" cy="168.5" r="1.7" fill="#ebc92a" stroke="#0d0d0d" stroke-width="0.95"/>
<circle cx="592.7" cy="167.9" r="1.7" fill="#ebc92a" stroke="#0d0d0d" stroke-width="0.95"/>
<circle cx="590.8" cy="177.8" r="1.7" fill="#ebc92a" stroke="#0d0d0d" stroke-width="0.95"/>
<circle cx="615.3" cy="84.1" r="1.7" fill="#1899bb" stroke="#0d0d0d" stroke-width="0.95"/>
<circle cx="614.2" cy="97.7" r="1.7" fill="#1899bb" stroke="#0d0d0d" stroke-width="0.95"/>
<circle cx="617" cy="107.8" r="1.7" fill="#1899bb" stroke="#0d0d0d" stroke-width="0.95"/>
<circle cx="614.7" cy="113.2" r="1.7" fill="#1899bb" stroke="#0d0d0d" stroke-width="0.95"/>
<circle cx="615.7" cy="119.5" r="1.7" fill="#1899bb" stroke="#0d0d0d" stroke-width="0.95"/>
<circle cx="613.2" cy="132.5" r="1.7" fill="#1899bb" stroke="#0d0d0d" stroke-width="0.95"/>
<circle cx="617" cy="133.2" r="1.7" fill="#1899bb" stroke="#0d0d0d" stroke-width="0.95"/>
<circle cx="614.4" cy="135.9" r="1.7" fill="#1899bb" stroke="#0d0d0d" stroke-width="0.95"/>
<circle cx="611.9" cy="142" r="1.7" fill="#1899bb" stroke="#0d0d0d" stroke-width="0.95"/>
<circle cx="618.2" cy="144.5" r="1.7" fill="#1899bb" stroke="#0d0d0d" stroke-width="0.95"/>
<circle cx="614.7" cy="148.9" r="1.7" fill="#1899bb" stroke="#0d0d0d" stroke-width="0.95"/>
<circle cx="611.9" cy="155.3" r="1.7" fill="#1899bb" stroke="#0d0d0d" stroke-width="0.95"/>
<circle cx="615.7" cy="155.9" r="1.7" fill="#1899bb" stroke="#0d0d0d" stroke-width="0.95"/>
<circle cx="618.9" cy="155.3" r="1.7" fill="#1899bb" stroke="#0d0d0d" stroke-width="0.95"/>
<circle cx="615.7" cy="158.8" r="1.7" fill="#1899bb" stroke="#0d0d0d" stroke-width="0.95"/>
<circle cx="610.6" cy="161.6" r="1.7" fill="#1899bb" stroke="#0d0d0d" stroke-width="0.95"/>
<circle cx="613.8" cy="163.5" r="1.7" fill="#1899bb" stroke="#0d0d0d" stroke-width="0.95"/>
<circle cx="618.9" cy="161.6" r="1.7" fill="#1899bb" stroke="#0d0d0d" stroke-width="0.95"/>
<circle cx="611.9" cy="174.5" r="1.7" fill="#1899bb" stroke="#0d0d0d" stroke-width="0.95"/>
<circle cx="615.7" cy="173" r="1.7" fill="#1899bb" stroke="#0d0d0d" stroke-width="0.95"/>
<circle cx="617.6" cy="175.8" r="1.7" fill="#1899bb" stroke="#0d0d0d" stroke-width="0.95"/>
<circle cx="613.2" cy="176.8" r="1.7" fill="#1899bb" stroke="#0d0d0d" stroke-width="0.95"/>
<circle cx="615.3" cy="178.3" r="1.7" fill="#1899bb" stroke="#0d0d0d" stroke-width="0.95"/>
<circle cx="629" cy="107.6" r="1.7" fill="#ebc92a" stroke="#0d0d0d" stroke-width="0.95"/>
<circle cx="631.3" cy="113.3" r="1.7" fill="#ebc92a" stroke="#0d0d0d" stroke-width="0.95"/>
<circle cx="628.4" cy="120.8" r="1.7" fill="#ebc92a" stroke="#0d0d0d" stroke-width="0.95"/>
<circle cx="631.1" cy="123.7" r="1.7" fill="#ebc92a" stroke="#0d0d0d" stroke-width="0.95"/>
<circle cx="625.8" cy="127.1" r="1.7" fill="#ebc92a" stroke="#0d0d0d" stroke-width="0.95"/>
<circle cx="629" cy="127.5" r="1.7" fill="#ebc92a" stroke="#0d0d0d" stroke-width="0.95"/>
<circle cx="633.4" cy="128.4" r="1.7" fill="#ebc92a" stroke="#0d0d0d" stroke-width="0.95"/>
<circle cx="627.1" cy="131.3" r="1.7" fill="#ebc92a" stroke="#0d0d0d" stroke-width="0.95"/>
<circle cx="630.9" cy="137.6" r="1.7" fill="#ebc92a" stroke="#0d0d0d" stroke-width="0.95"/>
<circle cx="628.4" cy="139.8" r="1.7" fill="#ebc92a" stroke="#0d0d0d" stroke-width="0.95"/>
<circle cx="631.5" cy="137.5" r="1.7" fill="#ebc92a" stroke="#0d0d0d" stroke-width="0.95"/>
<circle cx="630.3" cy="143.2" r="1.7" fill="#ebc92a" stroke="#0d0d0d" stroke-width="0.95"/>
<circle cx="625.2" cy="144.5" r="1.7" fill="#ebc92a" stroke="#0d0d0d" stroke-width="0.95"/>
<circle cx="634.4" cy="144.9" r="1.7" fill="#ebc92a" stroke="#0d0d0d" stroke-width="0.95"/>
<circle cx="626.5" cy="151.5" r="1.7" fill="#ebc92a" stroke="#0d0d0d" stroke-width="0.95"/>
<circle cx="628.4" cy="155.9" r="1.7" fill="#ebc92a" stroke="#0d0d0d" stroke-width="0.95"/>
<circle cx="625.8" cy="156.5" r="1.7" fill="#ebc92a" stroke="#0d0d0d" stroke-width="0.95"/>
<circle cx="634" cy="155.9" r="1.7" fill="#ebc92a" stroke="#0d0d0d" stroke-width="0.95"/>
<circle cx="634.7" cy="158.4" r="1.7" fill="#ebc92a" stroke="#0d0d0d" stroke-width="0.95"/>
<circle cx="628.4" cy="164.4" r="1.7" fill="#ebc92a" stroke="#0d0d0d" stroke-width="0.95"/>
<circle cx="625.8" cy="165.4" r="1.7" fill="#ebc92a" stroke="#0d0d0d" stroke-width="0.95"/>
<circle cx="631.5" cy="165.1" r="1.7" fill="#ebc92a" stroke="#0d0d0d" stroke-width="0.95"/>
<circle cx="628.4" cy="169.2" r="1.7" fill="#ebc92a" stroke="#0d0d0d" stroke-width="0.95"/>
<circle cx="632.2" cy="168.9" r="1.7" fill="#ebc92a" stroke="#0d0d0d" stroke-width="0.95"/>
<circle cx="629.6" cy="175.3" r="1.7" fill="#ebc92a" stroke="#0d0d0d" stroke-width="0.95"/>
<circle cx="654.8" cy="28.5" r="1.7" fill="#1899bb" stroke="#0d0d0d" stroke-width="0.95"/>
<circle cx="653.8" cy="87.4" r="1.7" fill="#1899bb" stroke="#0d0d0d" stroke-width="0.95"/>
<circle cx="654.3" cy="99.2" r="1.7" fill="#1899bb" stroke="#0d0d0d" stroke-width="0.95"/>
<circle cx="652.7" cy="105.4" r="1.7" fill="#1899bb" stroke="#0d0d0d" stroke-width="0.95"/>
<circle cx="656.9" cy="118.8" r="1.7" fill="#1899bb" stroke="#0d0d0d" stroke-width="0.95"/>
<circle cx="653.1" cy="123.5" r="1.7" fill="#1899bb" stroke="#0d0d0d" stroke-width="0.95"/>
<circle cx="651.6" cy="128.9" r="1.7" fill="#1899bb" stroke="#0d0d0d" stroke-width="0.95"/>
<circle cx="654.7" cy="128.9" r="1.7" fill="#1899bb" stroke="#0d0d0d" stroke-width="0.95"/>
<circle cx="657.7" cy="128.2" r="1.7" fill="#1899bb" stroke="#0d0d0d" stroke-width="0.95"/>
<circle cx="649.7" cy="132.7" r="1.7" fill="#1899bb" stroke="#0d0d0d" stroke-width="0.95"/>
<circle cx="658.2" cy="136.5" r="1.7" fill="#1899bb" stroke="#0d0d0d" stroke-width="0.95"/>
<circle cx="651.8" cy="143.7" r="1.7" fill="#1899bb" stroke="#0d0d0d" stroke-width="0.95"/>
<circle cx="652.2" cy="152.6" r="1.7" fill="#1899bb" stroke="#0d0d0d" stroke-width="0.95"/>
<circle cx="656" cy="152.6" r="1.7" fill="#1899bb" stroke="#0d0d0d" stroke-width="0.95"/>
<circle cx="657.5" cy="153.1" r="1.7" fill="#1899bb" stroke="#0d0d0d" stroke-width="0.95"/>
<circle cx="659" cy="156.5" r="1.7" fill="#1899bb" stroke="#0d0d0d" stroke-width="0.95"/>
<circle cx="652.8" cy="160.5" r="1.7" fill="#1899bb" stroke="#0d0d0d" stroke-width="0.95"/>
<circle cx="655.3" cy="162" r="1.7" fill="#1899bb" stroke="#0d0d0d" stroke-width="0.95"/>
<circle cx="653.4" cy="174.5" r="1.7" fill="#1899bb" stroke="#0d0d0d" stroke-width="0.95"/>
<circle cx="655.3" cy="189.3" r="1.7" fill="#1899bb" stroke="#0d0d0d" stroke-width="0.95"/>
<circle cx="653.4" cy="192.7" r="1.7" fill="#1899bb" stroke="#0d0d0d" stroke-width="0.95"/>
<circle cx="654.2" cy="205" r="1.7" fill="#1899bb" stroke="#0d0d0d" stroke-width="0.95"/>
<circle cx="668.5" cy="28.5" r="1.7" fill="#ebc92a" stroke="#0d0d0d" stroke-width="0.95"/>
<circle cx="670" cy="70.9" r="1.7" fill="#ebc92a" stroke="#0d0d0d" stroke-width="0.95"/>
<circle cx="668.3" cy="75" r="1.7" fill="#ebc92a" stroke="#0d0d0d" stroke-width="0.95"/>
<circle cx="666.7" cy="94.4" r="1.7" fill="#ebc92a" stroke="#0d0d0d" stroke-width="0.95"/>
<circle cx="669.8" cy="94.4" r="1.7" fill="#ebc92a" stroke="#0d0d0d" stroke-width="0.95"/>
<circle cx="671.4" cy="103.3" r="1.7" fill="#ebc92a" stroke="#0d0d0d" stroke-width="0.95"/>
<circle cx="668" cy="107.4" r="1.7" fill="#ebc92a" stroke="#0d0d0d" stroke-width="0.95"/>
<circle cx="669.9" cy="109.6" r="1.7" fill="#ebc92a" stroke="#0d0d0d" stroke-width="0.95"/>
<circle cx="665.8" cy="119.9" r="1.7" fill="#ebc92a" stroke="#0d0d0d" stroke-width="0.95"/>
<circle cx="671.6" cy="121.6" r="1.7" fill="#ebc92a" stroke="#0d0d0d" stroke-width="0.95"/>
<circle cx="666.5" cy="125.4" r="1.7" fill="#ebc92a" stroke="#0d0d0d" stroke-width="0.95"/>
<circle cx="669.3" cy="126" r="1.7" fill="#ebc92a" stroke="#0d0d0d" stroke-width="0.95"/>
<circle cx="664.2" cy="129.4" r="1.7" fill="#ebc92a" stroke="#0d0d0d" stroke-width="0.95"/>
<circle cx="673.5" cy="131.1" r="1.7" fill="#ebc92a" stroke="#0d0d0d" stroke-width="0.95"/>
<circle cx="668" cy="135.3" r="1.7" fill="#ebc92a" stroke="#0d0d0d" stroke-width="0.95"/>
<circle cx="665.3" cy="140.8" r="1.7" fill="#ebc92a" stroke="#0d0d0d" stroke-width="0.95"/>
<circle cx="670.8" cy="139.9" r="1.7" fill="#ebc92a" stroke="#0d0d0d" stroke-width="0.95"/>
<circle cx="666.8" cy="142.5" r="1.7" fill="#ebc92a" stroke="#0d0d0d" stroke-width="0.95"/>
<circle cx="672.5" cy="142.5" r="1.7" fill="#ebc92a" stroke="#0d0d0d" stroke-width="0.95"/>
<circle cx="669.4" cy="147" r="1.7" fill="#ebc92a" stroke="#0d0d0d" stroke-width="0.95"/>
<circle cx="664.5" cy="151.3" r="1.7" fill="#ebc92a" stroke="#0d0d0d" stroke-width="0.95"/>
<circle cx="672.6" cy="154.2" r="1.7" fill="#ebc92a" stroke="#0d0d0d" stroke-width="0.95"/>
<circle cx="667.8" cy="159.8" r="1.7" fill="#ebc92a" stroke="#0d0d0d" stroke-width="0.95"/>
<circle cx="665.6" cy="163" r="1.7" fill="#ebc92a" stroke="#0d0d0d" stroke-width="0.95"/>
<circle cx="670.8" cy="163.5" r="1.7" fill="#ebc92a" stroke="#0d0d0d" stroke-width="0.95"/>
<circle cx="667.8" cy="185.6" r="1.7" fill="#ebc92a" stroke="#0d0d0d" stroke-width="0.95"/>
<circle cx="668.9" cy="192" r="1.7" fill="#ebc92a" stroke="#0d0d0d" stroke-width="0.95"/>
<path d="M498.4 128.4V94.2M498.4 164.1V182.8" stroke="#3a3a3a" stroke-width="1.2"/>
<rect x="491.5" y="128.4" width="13.8" height="35.7" fill="rgb(51,128,162)" fill-opacity="0.55" stroke="#3a3a3a" stroke-width="1.3"/>
<line x1="491.5" x2="505.3" y1="152" y2="152" stroke="#3a3a3a" stroke-width="2.2"/>
<path d="M513.05 136.9V117.3M513.05 163.4V177.7" stroke="#3a3a3a" stroke-width="1.2"/>
<rect x="506.3" y="136.9" width="13.5" height="26.5" fill="rgb(228,193,59)" fill-opacity="0.55" stroke="#3a3a3a" stroke-width="1.3"/>
<line x1="506.3" x2="519.8" y1="151.6" y2="151.6" stroke="#3a3a3a" stroke-width="2.2"/>
<path d="M537.3 140.1V110.3M537.3 167V181.1" stroke="#3a3a3a" stroke-width="1.2"/>
<rect x="530.4" y="140.1" width="13.8" height="26.9" fill="rgb(51,128,162)" fill-opacity="0.55" stroke="#3a3a3a" stroke-width="1.3"/>
<line x1="530.4" x2="544.2" y1="152.4" y2="152.4" stroke="#3a3a3a" stroke-width="2.2"/>
<path d="M551.95 134.4V114.4M551.95 160.3V177.3" stroke="#3a3a3a" stroke-width="1.2"/>
<rect x="545.2" y="134.4" width="13.5" height="25.9" fill="rgb(228,193,59)" fill-opacity="0.55" stroke="#3a3a3a" stroke-width="1.3"/>
<line x1="545.2" x2="558.7" y1="149.9" y2="149.9" stroke="#3a3a3a" stroke-width="2.2"/>
<path d="M576.1 138.3V97.7M576.1 167.3V180.3" stroke="#3a3a3a" stroke-width="1.2"/>
<rect x="569.2" y="138.3" width="13.8" height="29" fill="rgb(51,128,162)" fill-opacity="0.55" stroke="#3a3a3a" stroke-width="1.3"/>
<line x1="569.2" x2="583" y1="153.1" y2="153.1" stroke="#3a3a3a" stroke-width="2.2"/>
<path d="M590.75 133.8V110.6M590.75 158V177.8" stroke="#3a3a3a" stroke-width="1.2"/>
<rect x="584" y="133.8" width="13.5" height="24.2" fill="rgb(228,193,59)" fill-opacity="0.55" stroke="#3a3a3a" stroke-width="1.3"/>
<line x1="584" x2="597.5" y1="148" y2="148" stroke="#3a3a3a" stroke-width="2.2"/>
<path d="M615 133.4V97.7M615 162.2V178.3" stroke="#3a3a3a" stroke-width="1.2"/>
<rect x="608.1" y="133.4" width="13.8" height="28.8" fill="rgb(51,128,162)" fill-opacity="0.55" stroke="#3a3a3a" stroke-width="1.3"/>
<line x1="608.1" x2="621.9" y1="152.3" y2="152.3" stroke="#3a3a3a" stroke-width="2.2"/>
<path d="M629.65 128.7V107.6M629.65 157.8V175.3" stroke="#3a3a3a" stroke-width="1.2"/>
<rect x="622.9" y="128.7" width="13.5" height="29.1" fill="rgb(228,193,59)" fill-opacity="0.55" stroke="#3a3a3a" stroke-width="1.3"/>
<line x1="622.9" x2="636.4" y1="146.8" y2="146.8" stroke="#3a3a3a" stroke-width="2.2"/>
<path d="M653.9 124.4V87.4M653.9 156.1V192.7" stroke="#3a3a3a" stroke-width="1.2"/>
<rect x="647" y="124.4" width="13.8" height="31.7" fill="rgb(51,128,162)" fill-opacity="0.55" stroke="#3a3a3a" stroke-width="1.3"/>
<line x1="647" x2="660.8" y1="140.3" y2="140.3" stroke="#3a3a3a" stroke-width="2.2"/>
<path d="M668.55 108.5V70.9M668.55 152.1V192" stroke="#3a3a3a" stroke-width="1.2"/>
<rect x="661.8" y="108.5" width="13.5" height="43.6" fill="rgb(228,193,59)" fill-opacity="0.55" stroke="#3a3a3a" stroke-width="1.3"/>
<line x1="661.8" x2="675.3" y1="132.6" y2="132.6" stroke="#3a3a3a" stroke-width="2.2"/>
<line x1="479.8" x2="482.5" y1="43.5" y2="43.5" stroke="#333333" stroke-width="1.3"/>
<text transform="translate(478.2,46.05) scale(1,1.15)" text-anchor="end" font-size="7.5" fill="#4d4d4d" stroke="#4d4d4d" stroke-width="0.1">200</text>
<line x1="479.8" x2="482.5" y1="101.5" y2="101.5" stroke="#333333" stroke-width="1.3"/>
<text transform="translate(478.2,103.9) scale(1,1.15)" text-anchor="end" font-size="7.5" fill="#4d4d4d" stroke="#4d4d4d" stroke-width="0.1">150</text>
<line x1="479.8" x2="482.5" y1="158.5" y2="158.5" stroke="#333333" stroke-width="1.3"/>
<text transform="translate(478.2,161.75) scale(1,1.15)" text-anchor="end" font-size="7.5" fill="#4d4d4d" stroke="#4d4d4d" stroke-width="0.1">100</text>
<line x1="505.5" x2="505.5" y1="213.4" y2="216.1" stroke="#333333" stroke-width="1.3"/>
<text transform="translate(505.7,223.2) scale(1,1.0)" text-anchor="middle" font-size="7.5" fill="#4d4d4d" stroke="#4d4d4d" stroke-width="0.1">BL</text>
<line x1="544.5" x2="544.5" y1="213.4" y2="216.1" stroke="#333333" stroke-width="1.3"/>
<text transform="translate(544.6,223.2) scale(1,1.0)" text-anchor="middle" font-size="7.5" fill="#4d4d4d" stroke="#4d4d4d" stroke-width="0.1">wk6</text>
<line x1="583.5" x2="583.5" y1="213.4" y2="216.1" stroke="#333333" stroke-width="1.3"/>
<text transform="translate(583.4,223.2) scale(1,1.0)" text-anchor="middle" font-size="7.5" fill="#4d4d4d" stroke="#4d4d4d" stroke-width="0.1">wk12</text>
<line x1="622.5" x2="622.5" y1="213.4" y2="216.1" stroke="#333333" stroke-width="1.3"/>
<text transform="translate(622.3,223.2) scale(1,1.0)" text-anchor="middle" font-size="7.5" fill="#4d4d4d" stroke="#4d4d4d" stroke-width="0.1">wk26</text>
<line x1="661.5" x2="661.5" y1="213.4" y2="216.1" stroke="#333333" stroke-width="1.3"/>
<text transform="translate(661.2,223.2) scale(1,1.0)" text-anchor="middle" font-size="7.5" fill="#4d4d4d" stroke="#4d4d4d" stroke-width="0.1">yr4</text>
<rect x="482.5" y="19.5" width="202" height="194" fill="none" stroke="#333333" stroke-width="1.2"/>
<rect x="478.5" y="253.5" width="206" height="14" fill="#d1d5d7" stroke="#333333" stroke-width="1.2"/>
<text transform="translate(585.3,262.9) scale(1,1.0)" text-anchor="middle" font-size="7.5" fill="#1a1a1a" stroke="#1a1a1a" stroke-width="0.1" textLength="153.5" lengthAdjust="spacingAndGlyphs">Metabolic Syndrome Severity Score (MetSSS)</text>
<line x1="478.4" x2="684.2" y1="302.35" y2="302.35" stroke="#f2f2f2" stroke-width="0.8"/>
<line x1="478.4" x2="684.2" y1="354.25" y2="354.25" stroke="#f2f2f2" stroke-width="0.8"/>
<line x1="478.4" x2="684.2" y1="406.15" y2="406.15" stroke="#f2f2f2" stroke-width="0.8"/>
<line x1="478.4" x2="684.2" y1="458.05" y2="458.05" stroke="#f2f2f2" stroke-width="0.8"/>
<line x1="478.4" x2="684.2" y1="276.4" y2="276.4" stroke="#e8e8e8" stroke-width="1.5"/>
<line x1="478.4" x2="684.2" y1="328.3" y2="328.3" stroke="#e8e8e8" stroke-width="1.5"/>
<line x1="478.4" x2="684.2" y1="380.2" y2="380.2" stroke="#e8e8e8" stroke-width="1.5"/>
<line x1="478.4" x2="684.2" y1="432.1" y2="432.1" stroke="#e8e8e8" stroke-width="1.5"/>
<line x1="502.5" x2="502.5" y1="267.4" y2="461.5" stroke="#e8e8e8" stroke-width="1.5"/>
<line x1="541.5" x2="541.5" y1="267.4" y2="461.5" stroke="#e8e8e8" stroke-width="1.5"/>
<line x1="581.5" x2="581.5" y1="267.4" y2="461.5" stroke="#e8e8e8" stroke-width="1.5"/>
<line x1="621.5" x2="621.5" y1="267.4" y2="461.5" stroke="#e8e8e8" stroke-width="1.5"/>
<line x1="660.5" x2="660.5" y1="267.4" y2="461.5" stroke="#e8e8e8" stroke-width="1.5"/>
<circle cx="491.3" cy="309.6" r="1.7" fill="#1899bb" stroke="#0d0d0d" stroke-width="0.95"/>
<circle cx="493.4" cy="307.1" r="1.7" fill="#1899bb" stroke="#0d0d0d" stroke-width="0.95"/>
<circle cx="495.5" cy="306.8" r="1.7" fill="#1899bb" stroke="#0d0d0d" stroke-width="0.95"/>
<circle cx="497.2" cy="305.9" r="1.7" fill="#1899bb" stroke="#0d0d0d" stroke-width="0.95"/>
<circle cx="493.8" cy="324.5" r="1.7" fill="#1899bb" stroke="#0d0d0d" stroke-width="0.95"/>
<circle cx="497.5" cy="323.3" r="1.7" fill="#1899bb" stroke="#0d0d0d" stroke-width="0.95"/>
<circle cx="496" cy="327" r="1.7" fill="#1899bb" stroke="#0d0d0d" stroke-width="0.95"/>
<circle cx="492.1" cy="331.3" r="1.7" fill="#1899bb" stroke="#0d0d0d" stroke-width="0.95"/>
<circle cx="496" cy="341.9" r="1.7" fill="#1899bb" stroke="#0d0d0d" stroke-width="0.95"/>
<circle cx="493.3" cy="345.6" r="1.7" fill="#1899bb" stroke="#0d0d0d" stroke-width="0.95"/>
<circle cx="495" cy="355.4" r="1.7" fill="#1899bb" stroke="#0d0d0d" stroke-width="0.95"/>
<circle cx="490.4" cy="358.8" r="1.7" fill="#1899bb" stroke="#0d0d0d" stroke-width="0.95"/>
<circle cx="498.5" cy="362.5" r="1.7" fill="#1899bb" stroke="#0d0d0d" stroke-width="0.95"/>
<circle cx="496.3" cy="369.8" r="1.7" fill="#1899bb" stroke="#0d0d0d" stroke-width="0.95"/>
<circle cx="491.1" cy="372.5" r="1.7" fill="#1899bb" stroke="#0d0d0d" stroke-width="0.95"/>
<circle cx="492.5" cy="378.6" r="1.7" fill="#1899bb" stroke="#0d0d0d" stroke-width="0.95"/>
<circle cx="498" cy="378.3" r="1.7" fill="#1899bb" stroke="#0d0d0d" stroke-width="0.95"/>
<circle cx="495.1" cy="381.5" r="1.7" fill="#1899bb" stroke="#0d0d0d" stroke-width="0.95"/>
<circle cx="489.6" cy="382.7" r="1.7" fill="#1899bb" stroke="#0d0d0d" stroke-width="0.95"/>
<circle cx="498.9" cy="386.4" r="1.7" fill="#1899bb" stroke="#0d0d0d" stroke-width="0.95"/>
<circle cx="492.9" cy="389.8" r="1.7" fill="#1899bb" stroke="#0d0d0d" stroke-width="0.95"/>
<circle cx="495.8" cy="390.8" r="1.7" fill="#1899bb" stroke="#0d0d0d" stroke-width="0.95"/>
<circle cx="492.4" cy="402.6" r="1.7" fill="#1899bb" stroke="#0d0d0d" stroke-width="0.95"/>
<circle cx="496" cy="408" r="1.7" fill="#1899bb" stroke="#0d0d0d" stroke-width="0.95"/>
<circle cx="492.9" cy="414.3" r="1.7" fill="#1899bb" stroke="#0d0d0d" stroke-width="0.95"/>
<circle cx="494.6" cy="417" r="1.7" fill="#1899bb" stroke="#0d0d0d" stroke-width="0.95"/>
<circle cx="508.6" cy="305.1" r="1.7" fill="#ebc92a" stroke="#0d0d0d" stroke-width="0.95"/>
<circle cx="510.3" cy="309.6" r="1.7" fill="#ebc92a" stroke="#0d0d0d" stroke-width="0.95"/>
<circle cx="509" cy="331.8" r="1.7" fill="#ebc92a" stroke="#0d0d0d" stroke-width="0.95"/>
<circle cx="509.5" cy="340.5" r="1.7" fill="#ebc92a" stroke="#0d0d0d" stroke-width="0.95"/>
<circle cx="507.8" cy="349" r="1.7" fill="#ebc92a" stroke="#0d0d0d" stroke-width="0.95"/>
<circle cx="511.9" cy="354.9" r="1.7" fill="#ebc92a" stroke="#0d0d0d" stroke-width="0.95"/>
<circle cx="509" cy="356.1" r="1.7" fill="#ebc92a" stroke="#0d0d0d" stroke-width="0.95"/>
<circle cx="504.8" cy="363.3" r="1.7" fill="#ebc92a" stroke="#0d0d0d" stroke-width="0.95"/>
<circle cx="510.7" cy="363.3" r="1.7" fill="#ebc92a" stroke="#0d0d0d" stroke-width="0.95"/>
<circle cx="512.4" cy="364.2" r="1.7" fill="#ebc92a" stroke="#0d0d0d" stroke-width="0.95"/>
<circle cx="507" cy="368.9" r="1.7" fill="#ebc92a" stroke="#0d0d0d" stroke-width="0.95"/>
<circle cx="509.8" cy="369.8" r="1.7" fill="#ebc92a" stroke="#0d0d0d" stroke-width="0.95"/>
<circle cx="504.3" cy="370.9" r="1.7" fill="#ebc92a" stroke="#0d0d0d" stroke-width="0.95"/>
<circle cx="514.1" cy="373" r="1.7" fill="#ebc92a" stroke="#0d0d0d" stroke-width="0.95"/>
<circle cx="507.3" cy="376.4" r="1.7" fill="#ebc92a" stroke="#0d0d0d" stroke-width="0.95"/>
<circle cx="510.7" cy="376.4" r="1.7" fill="#ebc92a" stroke="#0d0d0d" stroke-width="0.95"/>
<circle cx="505.6" cy="381.8" r="1.7" fill="#ebc92a" stroke="#0d0d0d" stroke-width="0.95"/>
<circle cx="510.3" cy="381" r="1.7" fill="#ebc92a" stroke="#0d0d0d" stroke-width="0.95"/>
<circle cx="512.9" cy="384" r="1.7" fill="#ebc92a" stroke="#0d0d0d" stroke-width="0.95"/>
<circle cx="507.3" cy="385.2" r="1.7" fill="#ebc92a" stroke="#0d0d0d" stroke-width="0.95"/>
<circle cx="510.3" cy="386" r="1.7" fill="#ebc92a" stroke="#0d0d0d" stroke-width="0.95"/>
<circle cx="507.8" cy="391.1" r="1.7" fill="#ebc92a" stroke="#0d0d0d" stroke-width="0.95"/>
<circle cx="510.7" cy="391.1" r="1.7" fill="#ebc92a" stroke="#0d0d0d" stroke-width="0.95"/>
<circle cx="513.7" cy="390.6" r="1.7" fill="#ebc92a" stroke="#0d0d0d" stroke-width="0.95"/>
<circle cx="507.6" cy="398.4" r="1.7" fill="#ebc92a" stroke="#0d0d0d" stroke-width="0.95"/>
<circle cx="510.3" cy="402.6" r="1.7" fill="#ebc92a" stroke="#0d0d0d" stroke-width="0.95"/>
<circle cx="508.6" cy="424.9" r="1.7" fill="#ebc92a" stroke="#0d0d0d" stroke-width="0.95"/>
<circle cx="509.5" cy="427.8" r="1.7" fill="#ebc92a" stroke="#0d0d0d" stroke-width="0.95"/>
<circle cx="534.4" cy="292.2" r="1.7" fill="#1899bb" stroke="#0d0d0d" stroke-width="0.95"/>
<circle cx="532.3" cy="313.2" r="1.7" fill="#1899bb" stroke="#0d0d0d" stroke-width="0.95"/>
<circle cx="533.8" cy="316.9" r="1.7" fill="#1899bb" stroke="#0d0d0d" stroke-width="0.95"/>
<circle cx="536.5" cy="316.9" r="1.7" fill="#1899bb" stroke="#0d0d0d" stroke-width="0.95"/>
<circle cx="534.8" cy="340" r="1.7" fill="#1899bb" stroke="#0d0d0d" stroke-width="0.95"/>
<circle cx="532.3" cy="345.6" r="1.7" fill="#1899bb" stroke="#0d0d0d" stroke-width="0.95"/>
<circle cx="536.4" cy="349.8" r="1.7" fill="#1899bb" stroke="#0d0d0d" stroke-width="0.95"/>
<circle cx="533" cy="356.6" r="1.7" fill="#1899bb" stroke="#0d0d0d" stroke-width="0.95"/>
<circle cx="534.8" cy="360.5" r="1.7" fill="#1899bb" stroke="#0d0d0d" stroke-width="0.95"/>
<circle cx="531.3" cy="362.8" r="1.7" fill="#1899bb" stroke="#0d0d0d" stroke-width="0.95"/>
<circle cx="537.3" cy="371.8" r="1.7" fill="#1899bb" stroke="#0d0d0d" stroke-width="0.95"/>
<circle cx="533.8" cy="377.8" r="1.7" fill="#1899bb" stroke="#0d0d0d" stroke-width="0.95"/>
<circle cx="535" cy="388.6" r="1.7" fill="#1899bb" stroke="#0d0d0d" stroke-width="0.95"/>
<circle cx="529.3" cy="390.8" r="1.7" fill="#1899bb" stroke="#0d0d0d" stroke-width="0.95"/>
<circle cx="538" cy="397.9" r="1.7" fill="#1899bb" stroke="#0d0d0d" stroke-width="0.95"/>
<circle cx="533" cy="400.9" r="1.7" fill="#1899bb" stroke="#0d0d0d" stroke-width="0.95"/>
<circle cx="535.5" cy="405" r="1.7" fill="#1899bb" stroke="#0d0d0d" stroke-width="0.95"/>
<circle cx="531.5" cy="411" r="1.7" fill="#1899bb" stroke="#0d0d0d" stroke-width="0.95"/>
<circle cx="536.4" cy="411.9" r="1.7" fill="#1899bb" stroke="#0d0d0d" stroke-width="0.95"/>
<circle cx="532.6" cy="414.8" r="1.7" fill="#1899bb" stroke="#0d0d0d" stroke-width="0.95"/>
<circle cx="534" cy="424.9" r="1.7" fill="#1899bb" stroke="#0d0d0d" stroke-width="0.95"/>
<circle cx="548.7" cy="305.9" r="1.7" fill="#ebc92a" stroke="#0d0d0d" stroke-width="0.95"/>
<circle cx="550.2" cy="331.3" r="1.7" fill="#ebc92a" stroke="#0d0d0d" stroke-width="0.95"/>
<circle cx="548.5" cy="338.5" r="1.7" fill="#ebc92a" stroke="#0d0d0d" stroke-width="0.95"/>
<circle cx="549.9" cy="345.3" r="1.7" fill="#ebc92a" stroke="#0d0d0d" stroke-width="0.95"/>
<circle cx="546.5" cy="347.8" r="1.7" fill="#ebc92a" stroke="#0d0d0d" stroke-width="0.95"/>
<circle cx="552.6" cy="352" r="1.7" fill="#ebc92a" stroke="#0d0d0d" stroke-width="0.95"/>
<circle cx="547.8" cy="353.2" r="1.7" fill="#ebc92a" stroke="#0d0d0d" stroke-width="0.95"/>
<circle cx="545.3" cy="359.1" r="1.7" fill="#ebc92a" stroke="#0d0d0d" stroke-width="0.95"/>
<circle cx="551.2" cy="358.8" r="1.7" fill="#ebc92a" stroke="#0d0d0d" stroke-width="0.95"/>
<circle cx="547" cy="362.2" r="1.7" fill="#ebc92a" stroke="#0d0d0d" stroke-width="0.95"/>
<circle cx="552.6" cy="360.8" r="1.7" fill="#ebc92a" stroke="#0d0d0d" stroke-width="0.95"/>
<circle cx="549.2" cy="362.8" r="1.7" fill="#ebc92a" stroke="#0d0d0d" stroke-width="0.95"/>
<circle cx="552.1" cy="367.9" r="1.7" fill="#ebc92a" stroke="#0d0d0d" stroke-width="0.95"/>
<circle cx="545.3" cy="376.4" r="1.7" fill="#ebc92a" stroke="#0d0d0d" stroke-width="0.95"/>
<circle cx="549" cy="376.2" r="1.7" fill="#ebc92a" stroke="#0d0d0d" stroke-width="0.95"/>
<circle cx="551.2" cy="378.4" r="1.7" fill="#ebc92a" stroke="#0d0d0d" stroke-width="0.95"/>
<circle cx="546.1" cy="381" r="1.7" fill="#ebc92a" stroke="#0d0d0d" stroke-width="0.95"/>
<circle cx="552.6" cy="383.2" r="1.7" fill="#ebc92a" stroke="#0d0d0d" stroke-width="0.95"/>
<circle cx="547.5" cy="386" r="1.7" fill="#ebc92a" stroke="#0d0d0d" stroke-width="0.95"/>
<circle cx="551.2" cy="386.9" r="1.7" fill="#ebc92a" stroke="#0d0d0d" stroke-width="0.95"/>
<circle cx="544.5" cy="394.5" r="1.7" fill="#ebc92a" stroke="#0d0d0d" stroke-width="0.95"/>
<circle cx="547.8" cy="393.6" r="1.7" fill="#ebc92a" stroke="#0d0d0d" stroke-width="0.95"/>
<circle cx="551.2" cy="393.3" r="1.7" fill="#ebc92a" stroke="#0d0d0d" stroke-width="0.95"/>
<circle cx="553.8" cy="391.6" r="1.7" fill="#ebc92a" stroke="#0d0d0d" stroke-width="0.95"/>
<circle cx="551.2" cy="398.7" r="1.7" fill="#ebc92a" stroke="#0d0d0d" stroke-width="0.95"/>
<circle cx="547.5" cy="402.1" r="1.7" fill="#ebc92a" stroke="#0d0d0d" stroke-width="0.95"/>
<circle cx="549" cy="406.8" r="1.7" fill="#ebc92a" stroke="#0d0d0d" stroke-width="0.95"/>
<circle cx="574.8" cy="292.8" r="1.7" fill="#1899bb" stroke="#0d0d0d" stroke-width="0.95"/>
<circle cx="573.9" cy="311.9" r="1.7" fill="#1899bb" stroke="#0d0d0d" stroke-width="0.95"/>
<circle cx="572" cy="335.7" r="1.7" fill="#1899bb" stroke="#0d0d0d" stroke-width="0.95"/>
<circle cx="574.9" cy="335.7" r="1.7" fill="#1899bb" stroke="#0d0d0d" stroke-width="0.95"/>
<circle cx="575.8" cy="341.6" r="1.7" fill="#1899bb" stroke="#0d0d0d" stroke-width="0.95"/>
<circle cx="572.7" cy="355.1" r="1.7" fill="#1899bb" stroke="#0d0d0d" stroke-width="0.95"/>
<circle cx="574.3" cy="357.2" r="1.7" fill="#1899bb" stroke="#0d0d0d" stroke-width="0.95"/>
<circle cx="569.5" cy="363.2" r="1.7" fill="#1899bb" stroke="#0d0d0d" stroke-width="0.95"/>
<circle cx="578.6" cy="364.4" r="1.7" fill="#1899bb" stroke="#0d0d0d" stroke-width="0.95"/>
<circle cx="573.3" cy="369.9" r="1.7" fill="#1899bb" stroke="#0d0d0d" stroke-width="0.95"/>
<circle cx="576.1" cy="370.8" r="1.7" fill="#1899bb" stroke="#0d0d0d" stroke-width="0.95"/>
<circle cx="571.4" cy="373.7" r="1.7" fill="#1899bb" stroke="#0d0d0d" stroke-width="0.95"/>
<circle cx="572.1" cy="386.3" r="1.7" fill="#1899bb" stroke="#0d0d0d" stroke-width="0.95"/>
<circle cx="574.9" cy="386.3" r="1.7" fill="#1899bb" stroke="#0d0d0d" stroke-width="0.95"/>
<circle cx="577.7" cy="385.7" r="1.7" fill="#1899bb" stroke="#0d0d0d" stroke-width="0.95"/>
<circle cx="568.9" cy="388.7" r="1.7" fill="#1899bb" stroke="#0d0d0d" stroke-width="0.95"/>
<circle cx="578.7" cy="389" r="1.7" fill="#1899bb" stroke="#0d0d0d" stroke-width="0.95"/>
<circle cx="572.7" cy="398.6" r="1.7" fill="#1899bb" stroke="#0d0d0d" stroke-width="0.95"/>
<circle cx="575.4" cy="402.8" r="1.7" fill="#1899bb" stroke="#0d0d0d" stroke-width="0.95"/>
<circle cx="570.8" cy="404.7" r="1.7" fill="#1899bb" stroke="#0d0d0d" stroke-width="0.95"/>
<circle cx="576.2" cy="406.3" r="1.7" fill="#1899bb" stroke="#0d0d0d" stroke-width="0.95"/>
<circle cx="572.7" cy="415.7" r="1.7" fill="#1899bb" stroke="#0d0d0d" stroke-width="0.95"/>
<circle cx="574.2" cy="434.4" r="1.7" fill="#1899bb" stroke="#0d0d0d" stroke-width="0.95"/>
<circle cx="590.4" cy="320.8" r="1.7" fill="#ebc92a" stroke="#0d0d0d" stroke-width="0.95"/>
<circle cx="587.8" cy="324.9" r="1.7" fill="#ebc92a" stroke="#0d0d0d" stroke-width="0.95"/>
<circle cx="590" cy="328.1" r="1.7" fill="#ebc92a" stroke="#0d0d0d" stroke-width="0.95"/>
<circle cx="586.6" cy="333.2" r="1.7" fill="#ebc92a" stroke="#0d0d0d" stroke-width="0.95"/>
<circle cx="590.8" cy="336.9" r="1.7" fill="#ebc92a" stroke="#0d0d0d" stroke-width="0.95"/>
<circle cx="588.5" cy="351.3" r="1.7" fill="#ebc92a" stroke="#0d0d0d" stroke-width="0.95"/>
<circle cx="590.4" cy="356.6" r="1.7" fill="#ebc92a" stroke="#0d0d0d" stroke-width="0.95"/>
<circle cx="585.3" cy="360.4" r="1.7" fill="#ebc92a" stroke="#0d0d0d" stroke-width="0.95"/>
<circle cx="592.3" cy="361.6" r="1.7" fill="#ebc92a" stroke="#0d0d0d" stroke-width="0.95"/>
<circle cx="586.6" cy="363.5" r="1.7" fill="#ebc92a" stroke="#0d0d0d" stroke-width="0.95"/>
<circle cx="589.4" cy="367" r="1.7" fill="#ebc92a" stroke="#0d0d0d" stroke-width="0.95"/>
<circle cx="583.8" cy="367.7" r="1.7" fill="#ebc92a" stroke="#0d0d0d" stroke-width="0.95"/>
<circle cx="593.8" cy="368.2" r="1.7" fill="#ebc92a" stroke="#0d0d0d" stroke-width="0.95"/>
<circle cx="590.4" cy="377.5" r="1.7" fill="#ebc92a" stroke="#0d0d0d" stroke-width="0.95"/>
<circle cx="586.6" cy="381.1" r="1.7" fill="#ebc92a" stroke="#0d0d0d" stroke-width="0.95"/>
<circle cx="591" cy="382.9" r="1.7" fill="#ebc92a" stroke="#0d0d0d" stroke-width="0.95"/>
<circle cx="587.8" cy="387" r="1.7" fill="#ebc92a" stroke="#0d0d0d" stroke-width="0.95"/>
<circle cx="589.4" cy="394.9" r="1.7" fill="#ebc92a" stroke="#0d0d0d" stroke-width="0.95"/>
<circle cx="585.3" cy="401.5" r="1.7" fill="#ebc92a" stroke="#0d0d0d" stroke-width="0.95"/>
<circle cx="592.3" cy="402.2" r="1.7" fill="#ebc92a" stroke="#0d0d0d" stroke-width="0.95"/>
<circle cx="587.6" cy="405.9" r="1.7" fill="#ebc92a" stroke="#0d0d0d" stroke-width="0.95"/>
<circle cx="585.3" cy="411" r="1.7" fill="#ebc92a" stroke="#0d0d0d" stroke-width="0.95"/>
<circle cx="590.8" cy="410.4" r="1.7" fill="#ebc92a" stroke="#0d0d0d" stroke-width="0.95"/>
<circle cx="591.6" cy="412.3" r="1.7" fill="#ebc92a" stroke="#0d0d0d" stroke-width="0.95"/>
<circle cx="587" cy="416.1" r="1.7" fill="#ebc92a" stroke="#0d0d0d" stroke-width="0.95"/>
<circle cx="589.1" cy="419.2" r="1.7" fill="#ebc92a" stroke="#0d0d0d" stroke-width="0.95"/>
<circle cx="614.6" cy="277.3" r="1.7" fill="#1899bb" stroke="#0d0d0d" stroke-width="0.95"/>
<circle cx="613.8" cy="301" r="1.7" fill="#1899bb" stroke="#0d0d0d" stroke-width="0.95"/>
<circle cx="614.2" cy="316.3" r="1.7" fill="#1899bb" stroke="#0d0d0d" stroke-width="0.95"/>
<circle cx="611.6" cy="345.2" r="1.7" fill="#1899bb" stroke="#0d0d0d" stroke-width="0.95"/>
<circle cx="615.7" cy="349" r="1.7" fill="#1899bb" stroke="#0d0d0d" stroke-width="0.95"/>
<circle cx="611.9" cy="352.5" r="1.7" fill="#1899bb" stroke="#0d0d0d" stroke-width="0.95"/>
<circle cx="610.4" cy="360.1" r="1.7" fill="#1899bb" stroke="#0d0d0d" stroke-width="0.95"/>
<circle cx="614.2" cy="359.4" r="1.7" fill="#1899bb" stroke="#0d0d0d" stroke-width="0.95"/>
<circle cx="618" cy="370.9" r="1.7" fill="#1899bb" stroke="#0d0d0d" stroke-width="0.95"/>
<circle cx="613.2" cy="373" r="1.7" fill="#1899bb" stroke="#0d0d0d" stroke-width="0.95"/>
<circle cx="616" cy="375.6" r="1.7" fill="#1899bb" stroke="#0d0d0d" stroke-width="0.95"/>
<circle cx="611.6" cy="382.7" r="1.7" fill="#1899bb" stroke="#0d0d0d" stroke-width="0.95"/>
<circle cx="617.6" cy="382.4" r="1.7" fill="#1899bb" stroke="#0d0d0d" stroke-width="0.95"/>
<circle cx="609.1" cy="392.3" r="1.7" fill="#1899bb" stroke="#0d0d0d" stroke-width="0.95"/>
<circle cx="614.4" cy="391.4" r="1.7" fill="#1899bb" stroke="#0d0d0d" stroke-width="0.95"/>
<circle cx="618.2" cy="395.8" r="1.7" fill="#1899bb" stroke="#0d0d0d" stroke-width="0.95"/>
<circle cx="612.3" cy="400.3" r="1.7" fill="#1899bb" stroke="#0d0d0d" stroke-width="0.95"/>
<circle cx="615.3" cy="402.2" r="1.7" fill="#1899bb" stroke="#0d0d0d" stroke-width="0.95"/>
<circle cx="610" cy="403.4" r="1.7" fill="#1899bb" stroke="#0d0d0d" stroke-width="0.95"/>
<circle cx="616.3" cy="407" r="1.7" fill="#1899bb" stroke="#0d0d0d" stroke-width="0.95"/>
<circle cx="612.3" cy="414.8" r="1.7" fill="#1899bb" stroke="#0d0d0d" stroke-width="0.95"/>
<circle cx="613.8" cy="428.4" r="1.7" fill="#1899bb" stroke="#0d0d0d" stroke-width="0.95"/>
<circle cx="629.7" cy="298.9" r="1.7" fill="#ebc92a" stroke="#0d0d0d" stroke-width="0.95"/>
<circle cx="628.4" cy="304.7" r="1.7" fill="#ebc92a" stroke="#0d0d0d" stroke-width="0.95"/>
<circle cx="629" cy="323.4" r="1.7" fill="#ebc92a" stroke="#0d0d0d" stroke-width="0.95"/>
<circle cx="627.7" cy="328.5" r="1.7" fill="#ebc92a" stroke="#0d0d0d" stroke-width="0.95"/>
<circle cx="631.3" cy="350.3" r="1.7" fill="#ebc92a" stroke="#0d0d0d" stroke-width="0.95"/>
<circle cx="627.7" cy="354.1" r="1.7" fill="#ebc92a" stroke="#0d0d0d" stroke-width="0.95"/>
<circle cx="625.2" cy="356.6" r="1.7" fill="#ebc92a" stroke="#0d0d0d" stroke-width="0.95"/>
<circle cx="631.9" cy="358.9" r="1.7" fill="#ebc92a" stroke="#0d0d0d" stroke-width="0.95"/>
<circle cx="625.8" cy="362" r="1.7" fill="#ebc92a" stroke="#0d0d0d" stroke-width="0.95"/>
<circle cx="629" cy="364.8" r="1.7" fill="#ebc92a" stroke="#0d0d0d" stroke-width="0.95"/>
<circle cx="623.3" cy="366.7" r="1.7" fill="#ebc92a" stroke="#0d0d0d" stroke-width="0.95"/>
<circle cx="633.8" cy="367.3" r="1.7" fill="#ebc92a" stroke="#0d0d0d" stroke-width="0.95"/>
<circle cx="625.6" cy="373" r="1.7" fill="#ebc92a" stroke="#0d0d0d" stroke-width="0.95"/>
<circle cx="630.9" cy="371.5" r="1.7" fill="#ebc92a" stroke="#0d0d0d" stroke-width="0.95"/>
<circle cx="630.9" cy="378.1" r="1.7" fill="#ebc92a" stroke="#0d0d0d" stroke-width="0.95"/>
<circle cx="626.9" cy="384.9" r="1.7" fill="#ebc92a" stroke="#0d0d0d" stroke-width="0.95"/>
<circle cx="629.4" cy="385.9" r="1.7" fill="#ebc92a" stroke="#0d0d0d" stroke-width="0.95"/>
<circle cx="623.9" cy="390.1" r="1.7" fill="#ebc92a" stroke="#0d0d0d" stroke-width="0.95"/>
<circle cx="632.4" cy="392" r="1.7" fill="#ebc92a" stroke="#0d0d0d" stroke-width="0.95"/>
<circle cx="627.5" cy="393.9" r="1.7" fill="#ebc92a" stroke="#0d0d0d" stroke-width="0.95"/>
<circle cx="624.8" cy="397.5" r="1.7" fill="#ebc92a" stroke="#0d0d0d" stroke-width="0.95"/>
<circle cx="630" cy="396.5" r="1.7" fill="#ebc92a" stroke="#0d0d0d" stroke-width="0.95"/>
<circle cx="630.9" cy="401.5" r="1.7" fill="#ebc92a" stroke="#0d0d0d" stroke-width="0.95"/>
<circle cx="626.8" cy="405.7" r="1.7" fill="#ebc92a" stroke="#0d0d0d" stroke-width="0.95"/>
<circle cx="629" cy="407.2" r="1.7" fill="#ebc92a" stroke="#0d0d0d" stroke-width="0.95"/>
<circle cx="653.6" cy="305.7" r="1.7" fill="#1899bb" stroke="#0d0d0d" stroke-width="0.95"/>
<circle cx="651.7" cy="317" r="1.7" fill="#1899bb" stroke="#0d0d0d" stroke-width="0.95"/>
<circle cx="655.8" cy="322.9" r="1.7" fill="#1899bb" stroke="#0d0d0d" stroke-width="0.95"/>
<circle cx="652.5" cy="329.5" r="1.7" fill="#1899bb" stroke="#0d0d0d" stroke-width="0.95"/>
<circle cx="654.4" cy="331" r="1.7" fill="#1899bb" stroke="#0d0d0d" stroke-width="0.95"/>
<circle cx="651.7" cy="349.6" r="1.7" fill="#1899bb" stroke="#0d0d0d" stroke-width="0.95"/>
<circle cx="651.9" cy="357.3" r="1.7" fill="#1899bb" stroke="#0d0d0d" stroke-width="0.95"/>
<circle cx="654.4" cy="357.3" r="1.7" fill="#1899bb" stroke="#0d0d0d" stroke-width="0.95"/>
<circle cx="656.6" cy="356.3" r="1.7" fill="#1899bb" stroke="#0d0d0d" stroke-width="0.95"/>
<circle cx="648.5" cy="362.2" r="1.7" fill="#1899bb" stroke="#0d0d0d" stroke-width="0.95"/>
<circle cx="658.5" cy="362.8" r="1.7" fill="#1899bb" stroke="#0d0d0d" stroke-width="0.95"/>
<circle cx="650.7" cy="365.5" r="1.7" fill="#1899bb" stroke="#0d0d0d" stroke-width="0.95"/>
<circle cx="655.8" cy="380.2" r="1.7" fill="#1899bb" stroke="#0d0d0d" stroke-width="0.95"/>
<circle cx="651.9" cy="383.2" r="1.7" fill="#1899bb" stroke="#0d0d0d" stroke-width="0.95"/>
<circle cx="653.6" cy="382.9" r="1.7" fill="#1899bb" stroke="#0d0d0d" stroke-width="0.95"/>
<circle cx="650.2" cy="389.8" r="1.7" fill="#1899bb" stroke="#0d0d0d" stroke-width="0.95"/>
<circle cx="655.8" cy="393.2" r="1.7" fill="#1899bb" stroke="#0d0d0d" stroke-width="0.95"/>
<circle cx="652.5" cy="395.1" r="1.7" fill="#1899bb" stroke="#0d0d0d" stroke-width="0.95"/>
<circle cx="653.6" cy="408.9" r="1.7" fill="#1899bb" stroke="#0d0d0d" stroke-width="0.95"/>
<circle cx="652.5" cy="429.1" r="1.7" fill="#1899bb" stroke="#0d0d0d" stroke-width="0.95"/>
<circle cx="654.8" cy="442" r="1.7" fill="#1899bb" stroke="#0d0d0d" stroke-width="0.95"/>
<circle cx="652.2" cy="443.9" r="1.7" fill="#1899bb" stroke="#0d0d0d" stroke-width="0.95"/>
<circle cx="653.6" cy="451" r="1.7" fill="#1899bb" stroke="#0d0d0d" stroke-width="0.95"/>
<circle cx="668.1" cy="276.2" r="1.7" fill="#ebc92a" stroke="#0d0d0d" stroke-width="0.95"/>
<circle cx="669.1" cy="291" r="1.7" fill="#ebc92a" stroke="#0d0d0d" stroke-width="0.95"/>
<circle cx="668.1" cy="305" r="1.7" fill="#ebc92a" stroke="#0d0d0d" stroke-width="0.95"/>
<circle cx="669.1" cy="312.1" r="1.7" fill="#ebc92a" stroke="#0d0d0d" stroke-width="0.95"/>
<circle cx="666.9" cy="315.1" r="1.7" fill="#ebc92a" stroke="#0d0d0d" stroke-width="0.95"/>
<circle cx="668.1" cy="326.4" r="1.7" fill="#ebc92a" stroke="#0d0d0d" stroke-width="0.95"/>
<circle cx="670.3" cy="326.4" r="1.7" fill="#ebc92a" stroke="#0d0d0d" stroke-width="0.95"/>
<circle cx="668.7" cy="335.3" r="1.7" fill="#ebc92a" stroke="#0d0d0d" stroke-width="0.95"/>
<circle cx="665.9" cy="345.1" r="1.7" fill="#ebc92a" stroke="#0d0d0d" stroke-width="0.95"/>
<circle cx="666.2" cy="349.9" r="1.7" fill="#ebc92a" stroke="#0d0d0d" stroke-width="0.95"/>
<circle cx="669.1" cy="350.2" r="1.7" fill="#ebc92a" stroke="#0d0d0d" stroke-width="0.95"/>
<circle cx="671.4" cy="350.2" r="1.7" fill="#ebc92a" stroke="#0d0d0d" stroke-width="0.95"/>
<circle cx="663.2" cy="355.1" r="1.7" fill="#ebc92a" stroke="#0d0d0d" stroke-width="0.95"/>
<circle cx="665.2" cy="360" r="1.7" fill="#ebc92a" stroke="#0d0d0d" stroke-width="0.95"/>
<circle cx="669.9" cy="360.3" r="1.7" fill="#ebc92a" stroke="#0d0d0d" stroke-width="0.95"/>
<circle cx="672.5" cy="361" r="1.7" fill="#ebc92a" stroke="#0d0d0d" stroke-width="0.95"/>
<circle cx="666.6" cy="363.2" r="1.7" fill="#ebc92a" stroke="#0d0d0d" stroke-width="0.95"/>
<circle cx="668.7" cy="365.7" r="1.7" fill="#ebc92a" stroke="#0d0d0d" stroke-width="0.95"/>
<circle cx="665.9" cy="370.6" r="1.7" fill="#ebc92a" stroke="#0d0d0d" stroke-width="0.95"/>
<circle cx="667.4" cy="379.9" r="1.7" fill="#ebc92a" stroke="#0d0d0d" stroke-width="0.95"/>
<circle cx="670.2" cy="379.2" r="1.7" fill="#ebc92a" stroke="#0d0d0d" stroke-width="0.95"/>
<circle cx="669.1" cy="386.1" r="1.7" fill="#ebc92a" stroke="#0d0d0d" stroke-width="0.95"/>
<circle cx="666.9" cy="390.7" r="1.7" fill="#ebc92a" stroke="#0d0d0d" stroke-width="0.95"/>
<circle cx="668.7" cy="429.1" r="1.7" fill="#ebc92a" stroke="#0d0d0d" stroke-width="0.95"/>
<circle cx="668.1" cy="435.8" r="1.7" fill="#ebc92a" stroke="#0d0d0d" stroke-width="0.95"/>
<circle cx="668.4" cy="452.8" r="1.7" fill="#ebc92a" stroke="#0d0d0d" stroke-width="0.95"/>
<path d="M494.8 329.2V305.9M494.8 384.4V417" stroke="#3a3a3a" stroke-width="1.2"/>
<rect x="487.9" y="329.2" width="13.8" height="55.2" fill="rgb(51,128,162)" fill-opacity="0.55" stroke="#3a3a3a" stroke-width="1.3"/>
<line x1="487.9" x2="501.7" y1="363.3" y2="363.3" stroke="#3a3a3a" stroke-width="2.2"/>
<path d="M509.45 361.3V331.6M509.45 389.4V427.8" stroke="#3a3a3a" stroke-width="1.2"/>
<rect x="502.7" y="361.3" width="13.5" height="28.1" fill="rgb(228,193,59)" fill-opacity="0.55" stroke="#3a3a3a" stroke-width="1.3"/>
<line x1="502.7" x2="516.2" y1="374.6" y2="374.6" stroke="#3a3a3a" stroke-width="2.2"/>
<path d="M534.5 349.5V292.2M534.5 397.9V424.9" stroke="#3a3a3a" stroke-width="1.2"/>
<rect x="527.6" y="349.5" width="13.8" height="48.4" fill="rgb(51,128,162)" fill-opacity="0.55" stroke="#3a3a3a" stroke-width="1.3"/>
<line x1="527.6" x2="541.4" y1="385.2" y2="385.2" stroke="#3a3a3a" stroke-width="2.2"/>
<path d="M549.15 356.8V331.2M549.15 390.6V406.8" stroke="#3a3a3a" stroke-width="1.2"/>
<rect x="542.4" y="356.8" width="13.5" height="33.8" fill="rgb(228,193,59)" fill-opacity="0.55" stroke="#3a3a3a" stroke-width="1.3"/>
<line x1="542.4" x2="555.9" y1="372.3" y2="372.3" stroke="#3a3a3a" stroke-width="2.2"/>
<path d="M574.1 356.3V311.9M574.1 393.7V434.4" stroke="#3a3a3a" stroke-width="1.2"/>
<rect x="567.2" y="356.3" width="13.8" height="37.4" fill="rgb(51,128,162)" fill-opacity="0.55" stroke="#3a3a3a" stroke-width="1.3"/>
<line x1="567.2" x2="581" y1="373.7" y2="373.7" stroke="#3a3a3a" stroke-width="2.2"/>
<path d="M588.75 358.2V320.8M588.75 401.3V419.2" stroke="#3a3a3a" stroke-width="1.2"/>
<rect x="582" y="358.2" width="13.5" height="43.1" fill="rgb(228,193,59)" fill-opacity="0.55" stroke="#3a3a3a" stroke-width="1.3"/>
<line x1="582" x2="595.5" y1="370.8" y2="370.8" stroke="#3a3a3a" stroke-width="2.2"/>
<path d="M613.8 355.7V301M613.8 398.1V428.4" stroke="#3a3a3a" stroke-width="1.2"/>
<rect x="606.9" y="355.7" width="13.8" height="42.4" fill="rgb(51,128,162)" fill-opacity="0.55" stroke="#3a3a3a" stroke-width="1.3"/>
<line x1="606.9" x2="620.7" y1="380.4" y2="380.4" stroke="#3a3a3a" stroke-width="2.2"/>
<path d="M628.45 355.7V299M628.45 391.1V407.2" stroke="#3a3a3a" stroke-width="1.2"/>
<rect x="621.7" y="355.7" width="13.5" height="35.4" fill="rgb(228,193,59)" fill-opacity="0.55" stroke="#3a3a3a" stroke-width="1.3"/>
<line x1="621.7" x2="635.2" y1="369.6" y2="369.6" stroke="#3a3a3a" stroke-width="2.2"/>
<path d="M653.5 356.3V305.7M653.5 392.8V443.9" stroke="#3a3a3a" stroke-width="1.2"/>
<rect x="646.6" y="356.3" width="13.8" height="36.5" fill="rgb(51,128,162)" fill-opacity="0.55" stroke="#3a3a3a" stroke-width="1.3"/>
<line x1="646.6" x2="660.4" y1="365.2" y2="365.2" stroke="#3a3a3a" stroke-width="2.2"/>
<path d="M668.15 333.2V276.2M668.15 373.1V429.1" stroke="#3a3a3a" stroke-width="1.2"/>
<rect x="661.4" y="333.2" width="13.5" height="39.9" fill="rgb(228,193,59)" fill-opacity="0.55" stroke="#3a3a3a" stroke-width="1.3"/>
<line x1="661.4" x2="674.9" y1="357" y2="357" stroke="#3a3a3a" stroke-width="2.2"/>
<line x1="475.7" x2="478.4" y1="276.5" y2="276.5" stroke="#333333" stroke-width="1.3"/>
<text transform="translate(474.1,279.15) scale(1,1.15)" text-anchor="end" font-size="7.5" fill="#4d4d4d" stroke="#4d4d4d" stroke-width="0.1">2</text>
<line x1="475.7" x2="478.4" y1="328.5" y2="328.5" stroke="#333333" stroke-width="1.3"/>
<text transform="translate(474.1,331.05) scale(1,1.15)" text-anchor="end" font-size="7.5" fill="#4d4d4d" stroke="#4d4d4d" stroke-width="0.1">1</text>
<line x1="475.7" x2="478.4" y1="380.5" y2="380.5" stroke="#333333" stroke-width="1.3"/>
<text transform="translate(474.1,382.95) scale(1,1.15)" text-anchor="end" font-size="7.5" fill="#4d4d4d" stroke="#4d4d4d" stroke-width="0.1">0</text>
<line x1="475.7" x2="478.4" y1="432.5" y2="432.5" stroke="#333333" stroke-width="1.3"/>
<text transform="translate(474.1,434.85) scale(1,1.15)" text-anchor="end" font-size="7.5" fill="#4d4d4d" stroke="#4d4d4d" stroke-width="0.1">−<tspan dx="0.7">1</tspan></text>
<line x1="502.5" x2="502.5" y1="461.5" y2="464.2" stroke="#333333" stroke-width="1.3"/>
<text transform="translate(502.1,471.3) scale(1,1.0)" text-anchor="middle" font-size="7.5" fill="#4d4d4d" stroke="#4d4d4d" stroke-width="0.1">BL</text>
<line x1="541.5" x2="541.5" y1="461.5" y2="464.2" stroke="#333333" stroke-width="1.3"/>
<text transform="translate(541.8,471.3) scale(1,1.0)" text-anchor="middle" font-size="7.5" fill="#4d4d4d" stroke="#4d4d4d" stroke-width="0.1">wk6</text>
<line x1="581.5" x2="581.5" y1="461.5" y2="464.2" stroke="#333333" stroke-width="1.3"/>
<text transform="translate(581.4,471.3) scale(1,1.0)" text-anchor="middle" font-size="7.5" fill="#4d4d4d" stroke="#4d4d4d" stroke-width="0.1">wk12</text>
<line x1="621.5" x2="621.5" y1="461.5" y2="464.2" stroke="#333333" stroke-width="1.3"/>
<text transform="translate(621.1,471.3) scale(1,1.0)" text-anchor="middle" font-size="7.5" fill="#4d4d4d" stroke="#4d4d4d" stroke-width="0.1">wk26</text>
<line x1="660.5" x2="660.5" y1="461.5" y2="464.2" stroke="#333333" stroke-width="1.3"/>
<text transform="translate(660.8,471.3) scale(1,1.0)" text-anchor="middle" font-size="7.5" fill="#4d4d4d" stroke="#4d4d4d" stroke-width="0.1">yr4</text>
<rect x="478.5" y="267.5" width="206" height="194" fill="none" stroke="#333333" stroke-width="1.2"/>
<path d="M5.02 -1L9.48 -1L13.77 14.9L10.57 14.9L9.79 12L4.71 12L3.93 14.9L0.73 14.9Z M7.25 2.59L9.2 9.8L5.3 9.8Z" fill="#000" fill-rule="evenodd"/>
<text transform="translate(451.7,15.7) scale(0.93,1)" font-size="22" font-weight="bold" fill="#000">B</text>
<text transform="translate(450.8,266.0) scale(1,1.07)" font-size="22" font-weight="bold" fill="#000">C</text>
</svg>
</body></html>
